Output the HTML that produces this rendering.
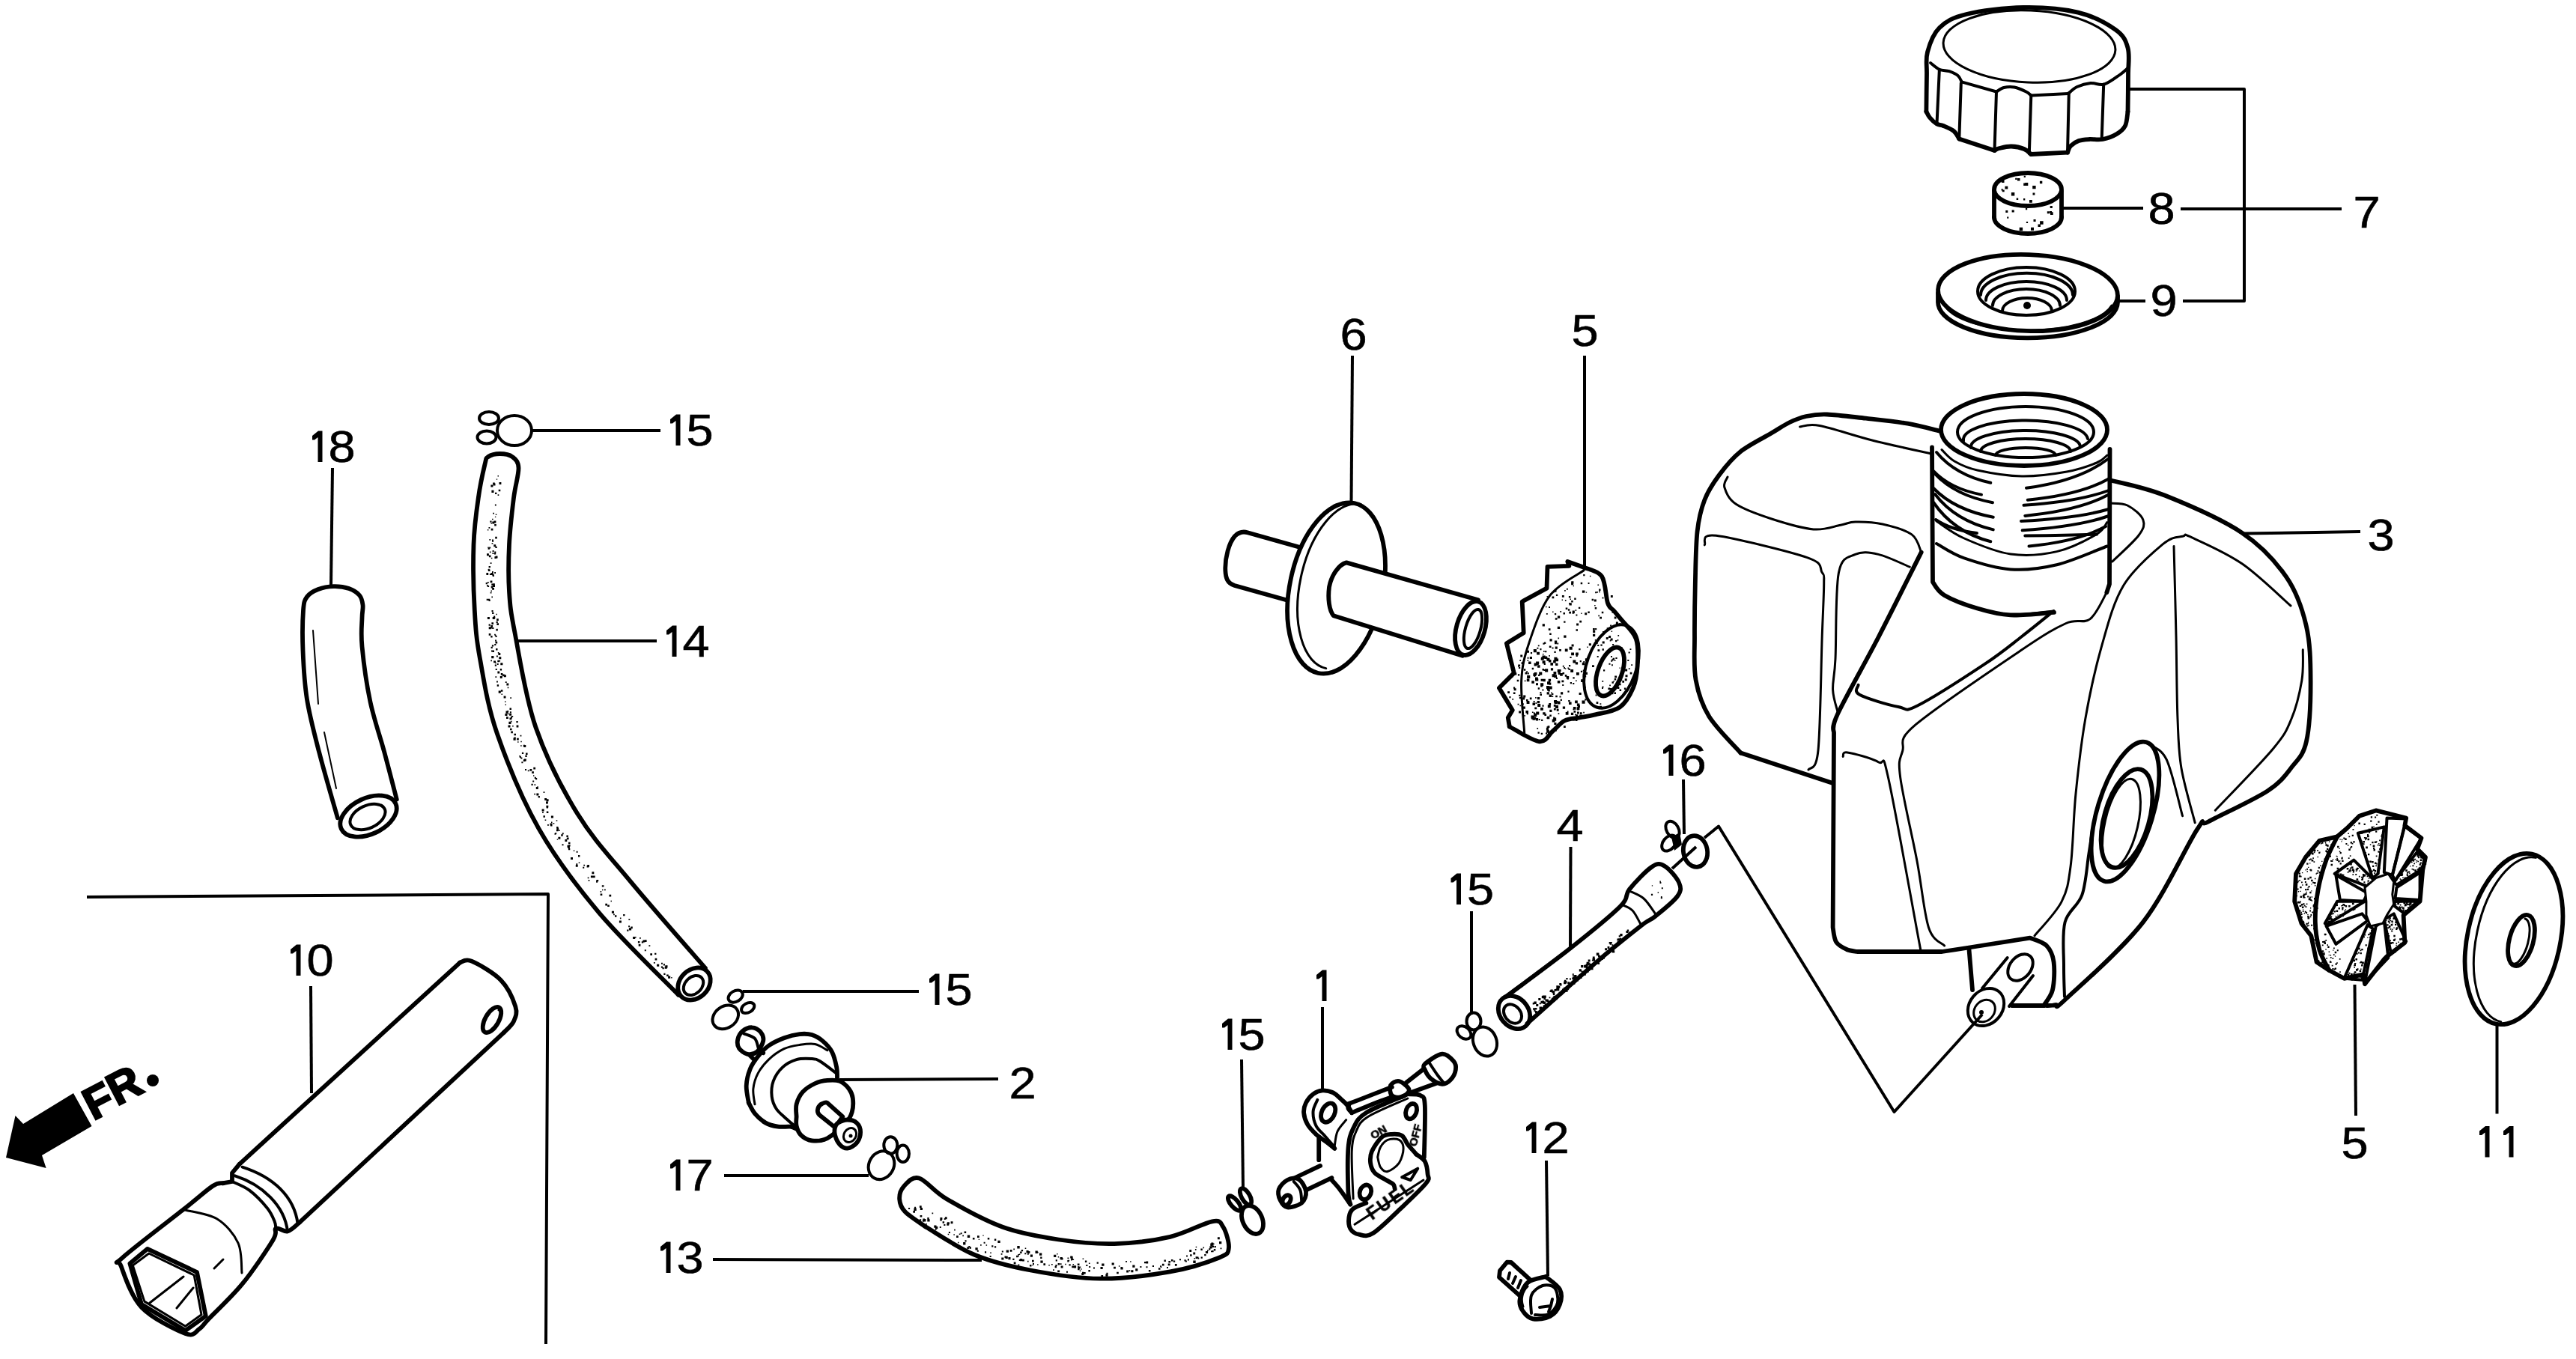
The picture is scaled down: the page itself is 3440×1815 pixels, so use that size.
<!DOCTYPE html>
<html><head><meta charset="utf-8"><style>
html,body{margin:0;padding:0;background:#fff;width:3440px;height:1815px;overflow:hidden}
svg{display:block}
text{font-family:"Liberation Sans",sans-serif;font-size:59px;fill:#000;stroke:#000;stroke-width:0.6px}
.l{fill:none;stroke:#000;stroke-width:4;stroke-linecap:butt;stroke-linejoin:round}
.t{fill:none;stroke:#000;stroke-width:5.8;stroke-linecap:round;stroke-linejoin:round}
.m{fill:none;stroke:#000;stroke-width:4;stroke-linecap:round;stroke-linejoin:round}
.n{fill:none;stroke:#000;stroke-width:3;stroke-linecap:round;stroke-linejoin:round}
.f{fill:#fff;stroke:#000;stroke-width:5.8;stroke-linecap:round;stroke-linejoin:round}
.d{fill:#000;stroke:none}
</style></head><body>
<svg width="3440" height="1815" viewBox="0 0 3440 1815">
<defs><filter id="g"><feOffset dx="0" dy="0"/></filter></defs>
<text transform="translate(3142.5 304) scale(1.1 1)" x="0" y="0">7</text>
<text transform="translate(2868.5 299) scale(1.1 1)" x="0" y="0">8</text>
<text transform="translate(2871.5 422) scale(1.1 1)" x="0" y="0">9</text>
<text transform="translate(1789.5 467) scale(1.1 1)" x="0" y="0">6</text>
<text transform="translate(2098.5 462) scale(1.1 1)" x="0" y="0">5</text>
<text transform="translate(3161.5 735) scale(1.1 1)" x="0" y="0">3</text>
<path class="d" d="M417.0 587.5 L417.0 582.0 L425.0 575.5 L430.5 575.5 L430.5 617.0 L424.5 617.0 L424.5 584.0 L420.0 587.5Z"/>
<text transform="translate(438.5 617) scale(1.1 1)" x="0" y="0">8</text>
<path class="d" d="M895.0 565.5 L895.0 560.0 L903.0 553.5 L908.5 553.5 L908.5 595.0 L902.5 595.0 L902.5 562.0 L898.0 565.5Z"/>
<text transform="translate(916.5 595) scale(1.1 1)" x="0" y="0">5</text>
<path class="d" d="M890.0 847.5 L890.0 842.0 L898.0 835.5 L903.5 835.5 L903.5 877.0 L897.5 877.0 L897.5 844.0 L893.0 847.5Z"/>
<text transform="translate(911.5 877) scale(1.1 1)" x="0" y="0">4</text>
<path class="d" d="M2221.0 1006.5 L2221.0 1001.0 L2229.0 994.5 L2234.5 994.5 L2234.5 1036.0 L2228.5 1036.0 L2228.5 1003.0 L2224.0 1006.5Z"/>
<text transform="translate(2242.5 1036) scale(1.1 1)" x="0" y="0">6</text>
<text transform="translate(2078.5 1123) scale(1.1 1)" x="0" y="0">4</text>
<path class="d" d="M1937.5 1178.5 L1937.5 1173.0 L1945.5 1166.5 L1951.0 1166.5 L1951.0 1208.0 L1945.0 1208.0 L1945.0 1175.0 L1940.5 1178.5Z"/>
<text transform="translate(1959.0 1208) scale(1.1 1)" x="0" y="0">5</text>
<path class="d" d="M388.0 1273.5 L388.0 1268.0 L396.0 1261.5 L401.5 1261.5 L401.5 1303.0 L395.5 1303.0 L395.5 1270.0 L391.0 1273.5Z"/>
<text transform="translate(409.5 1303) scale(1.1 1)" x="0" y="0">0</text>
<path class="d" d="M1241.0 1312.5 L1241.0 1307.0 L1249.0 1300.5 L1254.5 1300.5 L1254.5 1342.0 L1248.5 1342.0 L1248.5 1309.0 L1244.0 1312.5Z"/>
<text transform="translate(1262.5 1342) scale(1.1 1)" x="0" y="0">5</text>
<path class="d" d="M1758.0 1307.5 L1758.0 1302.0 L1766.0 1295.5 L1771.5 1295.5 L1771.5 1337.0 L1765.5 1337.0 L1765.5 1304.0 L1761.0 1307.5Z"/>
<path class="d" d="M1632.0 1372.5 L1632.0 1367.0 L1640.0 1360.5 L1645.5 1360.5 L1645.5 1402.0 L1639.5 1402.0 L1639.5 1369.0 L1635.0 1372.5Z"/>
<text transform="translate(1653.5 1402) scale(1.1 1)" x="0" y="0">5</text>
<text transform="translate(1347.5 1467) scale(1.1 1)" x="0" y="0">2</text>
<path class="d" d="M2038.0 1510.5 L2038.0 1505.0 L2046.0 1498.5 L2051.5 1498.5 L2051.5 1540.0 L2045.5 1540.0 L2045.5 1507.0 L2041.0 1510.5Z"/>
<text transform="translate(2059.5 1540) scale(1.1 1)" x="0" y="0">2</text>
<text transform="translate(3126.5 1547) scale(1.1 1)" x="0" y="0">5</text>
<path class="d" d="M3311.0 1516.1 L3311.0 1510.6 L3319.0 1504.1 L3324.5 1504.1 L3324.5 1545.6 L3318.5 1545.6 L3318.5 1512.6 L3314.0 1516.1Z"/>
<path class="d" d="M3343.0 1516.1 L3343.0 1510.6 L3351.0 1504.1 L3356.5 1504.1 L3356.5 1545.6 L3350.5 1545.6 L3350.5 1512.6 L3346.0 1516.1Z"/>
<path class="d" d="M895.0 1560.5 L895.0 1555.0 L903.0 1548.5 L908.5 1548.5 L908.5 1590.0 L902.5 1590.0 L902.5 1557.0 L898.0 1560.5Z"/>
<text transform="translate(916.5 1590) scale(1.1 1)" x="0" y="0">7</text>
<path class="d" d="M882.0 1670.5 L882.0 1665.0 L890.0 1658.5 L895.5 1658.5 L895.5 1700.0 L889.5 1700.0 L889.5 1667.0 L885.0 1670.5Z"/>
<text transform="translate(903.5 1700) scale(1.1 1)" x="0" y="0">3</text>
<path class="l" d="M2844 119H2997V402H2915" />
<path class="l" d="M2912 279H3127" />
<path class="l" d="M2755 278H2862" />
<path class="l" d="M2826 402H2865" />
<path class="l" d="M1806 475L1804.5 670" />
<path class="l" d="M2116 475V757" />
<path class="l" d="M2997 712.5L3152 710" />
<path class="l" d="M2248 1041L2249 1114" />
<path class="l" d="M2276 1119L2295 1103.5L2529.5 1485L2647 1355" />
<path class="l" d="M2265 1131L2233 1160" />
<path class="l" d="M3144.5 1315L3146 1490" />
<path class="l" d="M3334.5 1367.5V1487.5" />
<path class="l" d="M690 856H877" />
<path class="l" d="M710 575H882" />
<path class="l" d="M444 625L442 782" />
<path class="l" d="M415 1317L416 1460" />
<path class="l" d="M992 1324H1227" />
<path class="l" d="M1121 1442L1333 1441" />
<path class="l" d="M967 1570H1160" />
<path class="l" d="M952 1682L1311 1683" />
<path class="l" d="M1658 1415L1660 1587" />
<path class="l" d="M1766 1345V1457" />
<path class="l" d="M1965 1217V1355" />
<path class="l" d="M2065 1550L2067 1704" />
<path class="l" d="M2097.5 1131L2097 1266" />
<path class="l" d="M116 1198L732 1194L729 1795" />
<polygon points="98,1460 122.5,1504 56,1543 61.6,1560 8,1546 20.5,1490 31,1501" fill="#000"/>
<text x="124.5" y="1497" transform="rotate(-27.3 124.5 1497)" style="font-weight:bold;font-size:60px;stroke-width:2.5">F</text>
<text x="156" y="1477.5" transform="rotate(-27.3 156 1477.5)" style="font-weight:bold;font-size:60px;stroke-width:2.5">R</text>
<circle cx="204" cy="1443" r="8" fill="#000"/>
<path class="t" d="M2572.4 149.0 C2572.5 140.8 2572.7 113.2 2573.0 100.0 C2573.3 86.8 2571.2 80.0 2574.0 69.5 C2576.8 59.0 2581.3 45.4 2590.0 37.0 C2598.7 28.6 2607.3 23.5 2626.0 19.0 C2644.7 14.5 2677.2 10.4 2702.0 10.0 C2726.8 9.6 2754.5 11.7 2775.0 16.6 C2795.5 21.6 2813.9 31.8 2825.0 39.7 C2836.1 47.6 2838.7 54.0 2841.5 64.0 C2844.3 74.0 2842.0 85.8 2842.0 100.0 C2842.0 114.2 2841.6 140.8 2841.5 149.0" />
<path class="t" d="M2841.5 149.0 C2840.9 152.2 2840.5 163.0 2838.0 168.0 C2835.5 173.0 2831.6 176.0 2826.6 179.0 C2821.6 182.0 2814.1 184.8 2808.0 186.0 C2801.9 187.2 2795.3 185.7 2790.0 186.0 C2784.7 186.3 2780.2 186.5 2776.0 188.0 C2771.8 189.5 2767.5 192.4 2765.0 195.0 C2762.5 197.6 2761.7 202.2 2761.0 203.6" />
<path class="t" d="M2761 203.6L2712.3 206" />
<path class="t" d="M2712.3 206.0 C2710.8 204.8 2707.4 200.8 2703.0 199.0 C2698.6 197.2 2691.5 195.7 2686.0 195.5 C2680.5 195.3 2673.8 197.1 2670.0 198.0 C2666.2 198.9 2664.6 200.5 2663.5 201.0" />
<path class="t" d="M2663.5 201L2616.3 185.4" />
<path class="t" d="M2616.3 185.4 C2615.1 183.7 2612.6 177.9 2609.0 175.0 C2605.4 172.1 2598.8 169.6 2595.0 168.0 C2591.2 166.4 2589.5 167.4 2586.5 165.6 C2583.5 163.8 2579.3 159.8 2577.0 157.0 C2574.7 154.2 2573.2 150.3 2572.4 149.0" />
<path class="m" d="M2578.0 84.0 C2580.0 85.5 2585.6 90.8 2589.8 92.7 C2594.0 94.6 2598.9 93.8 2603.0 95.2 C2607.1 96.6 2611.8 98.7 2614.6 101.0 C2617.4 103.3 2618.8 107.9 2619.6 109.3" />
<path class="m" d="M2619.6 109.3L2666 122.5" />
<path class="m" d="M2666.0 122.5 C2667.7 121.6 2672.0 118.0 2676.0 117.0 C2680.0 116.0 2685.1 115.6 2690.0 116.5 C2694.9 117.4 2702.0 120.7 2705.7 122.5 C2709.4 124.3 2711.2 126.7 2712.3 127.5" />
<path class="m" d="M2712.3 127.5L2762 125" />
<path class="m" d="M2762.0 125.0 C2763.9 123.5 2768.6 118.3 2773.6 116.0 C2778.6 113.7 2785.7 111.6 2791.8 111.0 C2797.9 110.4 2803.4 114.5 2810.0 112.6 C2816.6 110.6 2826.2 102.9 2831.5 99.3 C2836.8 95.7 2839.8 92.4 2841.5 91.0" />
<path class="m" d="M2589.8 94.4L2586.5 165.6" />
<path class="m" d="M2618.8 111L2616.3 185.4" />
<path class="m" d="M2666 122.5L2663.5 201" />
<path class="m" d="M2712.3 127.5L2709.8 205.3" />
<path class="m" d="M2762.8 124.2L2761 203.6" />
<path class="m" d="M2809.2 112.6L2806.7 185.4" />
<ellipse class="n" cx="2710" cy="62" rx="115" ry="48" transform="rotate(2.5 2710 62)"/>
<ellipse class="t" cx="2708" cy="253" rx="45" ry="22"/>
<path class="t" d="M2663 255V290M2753 256V290" />
<path class="t" d="M2663 290A45 22 0 0 0 2753 290" />
<path class="d" d="M2693.9 238.0h3.6v3.6h-3.6zM2673.8 253.4h2.9v2.9h-2.9zM2672.6 252.3h2.1v2.1h-2.1zM2702.7 234.8h2.2v2.2h-2.2zM2702.0 265.1h2.3v2.3h-2.3zM2685.9 257.1h4.4v4.4h-4.4zM2714.2 247.9h4.4v4.4h-4.4zM2691.2 237.8h2.3v2.3h-2.3zM2692.7 264.6h2.5v2.5h-2.5zM2714.5 257.6h2.9v2.9h-2.9zM2672.8 240.2h3.7v3.7h-3.7zM2702.2 244.6h3.5v3.5h-3.5zM2704.3 244.0h4.0v4.0h-4.0zM2723.9 241.8h3.4v3.4h-3.4zM2710.0 267.0h3.8v3.8h-3.8zM2677.4 248.7h3.9v3.9h-3.9z"/>
<path class="d" d="M2680.2 289.6h2.1v2.1h-2.1zM2721.5 299.5h3.4v3.4h-3.4zM2738.0 283.3h3.7v3.7h-3.7zM2715.5 292.9h3.1v3.1h-3.1zM2705.9 295.9h2.2v2.2h-2.2zM2724.1 295.3h4.5v4.5h-4.5zM2733.8 282.2h3.0v3.0h-3.0zM2704.9 278.0h2.3v2.3h-2.3zM2678.3 280.9h3.0v3.0h-3.0zM2737.7 274.9h3.1v3.1h-3.1zM2712.0 303.8h4.0v4.0h-4.0zM2737.1 282.0h3.0v3.0h-3.0zM2696.7 303.8h4.4v4.4h-4.4zM2686.6 280.4h3.2v3.2h-3.2z"/>
<ellipse class="t" cx="2708" cy="391" rx="120" ry="51" transform="rotate(2 2708 391)"/>
<path class="t" d="M2588 391V403A118 47 0 0 0 2828 404V396" />
<path class="n" d="M2596 406A114 42 0 0 0 2820 408" />
<ellipse class="m" cx="2706" cy="389" rx="65" ry="32"/>
<path class="m" d="M2645 394A61 29 0 0 1 2768 394" />
<path class="m" d="M2652 401A54 25 0 0 1 2760 401" />
<path class="m" d="M2661 408A45 22 0 0 1 2751 408" />
<path class="m" d="M2674 415A33 17 0 0 1 2740 415" />
<circle cx="2707" cy="408" r="5" fill="#000"/>
<path class="t" d="M2589.5 575.5 C2582.5 573.9 2563.8 568.5 2547.5 565.7 C2531.2 562.9 2509.5 560.7 2491.6 558.7 C2473.7 556.7 2453.3 554.0 2440.0 553.5 C2426.7 553.0 2420.3 554.2 2412.0 556.0 C2403.7 557.8 2397.7 560.3 2390.0 564.0 C2382.3 567.7 2376.8 571.7 2365.8 578.3 C2354.8 584.9 2335.6 594.1 2323.9 603.4 C2312.2 612.7 2303.8 623.5 2295.9 634.2 C2288.0 644.9 2281.2 655.1 2276.3 667.7 C2271.4 680.3 2268.7 691.1 2266.6 709.7 C2264.5 728.4 2264.4 756.2 2263.8 779.6 C2263.2 803.0 2262.9 828.5 2263.0 850.0 C2263.1 871.5 2261.4 890.5 2264.6 908.3 C2267.8 926.1 2272.4 940.8 2282.4 957.0 C2292.4 973.2 2317.5 997.4 2324.5 1005.5" />
<path class="t" d="M2324.5 1005.5L2447.6 1046" />
<path class="n" d="M2403.5 570.0 C2407.9 569.8 2413.9 565.5 2430.0 568.5 C2446.1 571.5 2475.1 581.7 2500.0 588.0 C2524.9 594.3 2566.4 603.2 2579.7 606.2" />
<path class="n" d="M2307.0 637.0 C2306.3 639.3 2301.0 645.0 2302.9 651.0 C2304.8 657.0 2307.8 666.3 2318.3 673.3 C2328.8 680.3 2348.6 687.4 2365.8 693.0 C2383.0 698.6 2406.3 705.5 2421.7 706.9 C2437.1 708.3 2448.7 702.9 2458.0 701.3 C2467.3 699.6 2468.3 697.2 2477.6 697.0 C2486.9 696.8 2501.4 697.2 2514.0 700.0 C2526.6 702.8 2544.4 707.6 2553.0 713.9 C2561.6 720.2 2563.6 733.6 2565.7 737.6" />
<path class="t" d="M2565.7 737.6 C2556.2 756.3 2527.6 814.0 2509.0 850.0 C2490.4 886.0 2464.0 932.0 2454.0 953.6 C2444.0 975.2 2449.8 975.3 2449.0 979.6 L2447.6 1238.7 C2448.3 1241.9 2448.9 1253.1 2452.0 1258.0 C2455.1 1262.9 2461.3 1265.8 2466.0 1268.0 C2470.7 1270.2 2477.7 1270.5 2480.0 1271.0 L2593.3 1271 L2629.4 1265.5 L2710.9 1252.7 C2714.6 1254.4 2727.7 1257.6 2733.0 1263.0 C2738.3 1268.4 2741.3 1275.2 2742.6 1285.0 C2743.9 1294.8 2743.3 1312.3 2741.0 1322.0 C2738.7 1331.7 2731.0 1339.5 2729.0 1343.0 L2686.7 1343" />
<path class="t" d="M2629.4 1267L2634 1322" />
<path class="n" d="M2276.3 727.8 C2278.9 725.7 2268.9 712.5 2291.7 715.3 C2314.5 718.1 2389.8 736.5 2413.3 744.6 C2436.9 752.8 2429.3 758.4 2433.0 764.2 C2436.7 770.0 2435.7 765.3 2435.7 779.6 C2435.7 793.9 2434.5 812.9 2433.2 850.0 C2431.9 887.1 2431.0 972.3 2428.0 1002.0 C2425.0 1031.7 2417.2 1023.7 2415.0 1028.0" />
<path class="n" d="M2550.3 757.2 C2543.3 754.4 2520.5 743.2 2508.4 740.4 C2496.3 737.6 2486.4 736.2 2477.6 740.4 C2468.8 744.6 2459.7 742.3 2455.3 765.6 C2450.9 788.9 2452.3 854.0 2451.0 880.0 C2449.7 906.0 2447.1 909.6 2447.6 921.3 C2448.1 933.0 2452.9 945.5 2454.0 950.4" />
<path class="m" d="M2481.6 914.8 C2481.9 916.9 2474.3 922.8 2483.2 927.7 C2492.1 932.6 2522.0 941.6 2535.0 944.0 C2548.0 946.4 2541.8 951.8 2561.0 942.3 C2580.2 932.8 2626.8 902.6 2650.0 887.2 C2673.2 871.8 2684.6 861.9 2700.0 850.0 C2715.4 838.1 2735.4 821.7 2742.5 816.0" />
<path class="n" d="M2700 820.7L2742.5 816" />
<path class="n" d="M2813.3 791.3 C2809.6 797.2 2800.3 819.7 2791.2 826.6 C2782.1 833.5 2774.1 825.6 2758.9 832.5 C2743.7 839.4 2733.4 845.3 2700.0 867.8 C2666.6 890.3 2584.9 945.2 2558.3 967.7 C2531.8 990.2 2544.1 991.2 2540.7 1003.0 C2537.3 1014.8 2534.5 1013.9 2537.7 1038.4 C2540.9 1062.9 2553.7 1116.6 2560.0 1150.0 C2566.3 1183.4 2569.4 1219.9 2575.5 1238.7 C2581.6 1257.5 2593.1 1259.0 2596.6 1263.0" />
<path class="n" d="M2461.2 1010.4 C2462.2 1009.5 2459.2 1003.8 2467.0 1005.0 C2474.8 1006.2 2499.2 1012.2 2508.3 1017.8 C2517.4 1023.4 2512.7 999.7 2521.5 1038.4 C2530.3 1077.1 2554.4 1213.2 2561.3 1250.0 C2568.2 1286.8 2562.7 1257.5 2563.0 1259.0" />
<path class="n" d="M3059.0 809.0 C3048.2 799.7 3016.4 768.2 2994.3 753.0 C2972.2 737.8 2939.8 723.8 2926.6 717.7 C2913.4 711.6 2921.3 714.8 2914.9 716.3 C2908.5 717.8 2901.7 715.6 2888.4 726.6 C2875.2 737.6 2849.1 759.4 2835.4 782.5 C2821.7 805.6 2814.4 835.4 2806.0 865.0 C2797.6 894.6 2790.5 927.5 2784.8 960.0 C2779.1 992.5 2775.3 1027.3 2772.0 1060.0 C2768.7 1092.7 2768.4 1131.9 2765.2 1156.0 C2762.0 1180.1 2761.0 1188.8 2753.0 1204.4 C2745.0 1220.0 2723.0 1242.2 2717.0 1249.7" />
<path class="m" d="M2794.0 1110.0 C2793.2 1115.2 2791.6 1126.8 2789.3 1141.0 C2787.0 1155.2 2785.6 1180.3 2780.3 1195.4 C2775.0 1210.5 2761.7 1215.8 2757.6 1231.6 C2753.5 1247.4 2756.1 1273.4 2756.0 1290.0 C2755.9 1306.6 2756.8 1324.2 2757.0 1331.0" />
<path class="n" d="M2903.0 729.5 C2903.5 749.6 2905.2 811.6 2906.0 850.0 C2906.8 888.4 2906.8 930.7 2908.0 960.0 C2909.2 989.3 2909.1 1002.9 2913.0 1026.0 C2916.9 1049.1 2928.2 1086.7 2931.2 1098.8" />
<path class="n" d="M3075.3 867.8 C3075.1 874.7 3076.4 893.6 3073.8 909.0 C3071.2 924.4 3066.4 944.8 3060.0 960.0 C3053.6 975.2 3052.4 979.6 3035.5 1000.0 C3018.6 1020.4 2971.2 1068.5 2958.3 1082.2" />
<path class="t" d="M2817.7 641.2 C2830.0 644.6 2861.9 650.0 2891.3 661.8 C2920.7 673.6 2967.3 693.6 2994.3 711.8 C3021.3 729.9 3039.0 750.1 3053.2 770.7 C3067.4 791.3 3074.3 812.5 3079.7 835.5 C3085.1 858.5 3085.5 883.2 3085.6 909.0 C3085.7 934.8 3084.3 970.7 3080.0 990.0 C3075.7 1009.3 3068.7 1013.9 3060.0 1025.0 C3051.3 1036.1 3046.1 1044.5 3027.7 1056.6 C3009.2 1068.6 2964.9 1088.8 2949.3 1097.3 C2933.7 1105.8 2948.6 1085.5 2934.0 1107.9 C2919.4 1130.3 2891.0 1193.9 2861.8 1231.6 C2832.6 1269.3 2778.5 1315.6 2759.0 1334.0 C2739.5 1352.4 2749.8 1340.5 2745.0 1342.0 C2740.2 1343.5 2732.5 1342.8 2730.0 1343.0" />
<path class="n" d="M2817.7 672.0 C2821.6 672.5 2833.6 671.3 2841.0 675.0 C2848.4 678.7 2859.4 687.5 2861.9 694.2 C2864.4 700.9 2862.9 705.7 2856.0 715.0 C2849.1 724.3 2826.6 744.2 2820.7 750.0" />
<ellipse class="t" cx="2838" cy="1084" rx="37" ry="97" transform="rotate(17 2838 1084)"/>
<ellipse class="t" cx="2840" cy="1093" rx="30" ry="68" transform="rotate(16 2840 1093)"/>
<ellipse class="n" cx="2833" cy="1100" rx="22" ry="61" transform="rotate(13 2833 1100)"/>
<path class="n" d="M2867.8 993.2 C2872.0 996.7 2885.2 997.9 2893.0 1014.0 C2900.8 1030.1 2910.9 1077.1 2914.5 1089.7" />
<path class="m" d="M2680.7 1279L2647 1320M2715 1303L2683 1344" />
<ellipse class="m" cx="2698" cy="1292" rx="14" ry="20" transform="rotate(40 2698 1292)"/>
<ellipse class="m" cx="2652" cy="1345" rx="22" ry="27" transform="rotate(40 2652 1345)"/>
<ellipse class="n" cx="2650" cy="1350" rx="13" ry="16" transform="rotate(40 2650 1350)"/>
<circle cx="2646" cy="1352" r="3" fill="#000"/>
<path class="t" d="M2580 597.5L2581 777.2 C2583.2 780.2 2586.5 789.0 2596.5 794.9 C2606.5 800.8 2625.9 808.1 2640.6 812.5 C2655.3 816.9 2667.7 820.5 2684.8 821.4 C2701.9 822.3 2733.3 818.4 2743.0 817.8" />
<path class="t" d="M2817.5 600L2817 780L2813.3 791.3" />
<ellipse class="t" cx="2703" cy="574" rx="111" ry="48"/>
<ellipse class="m" cx="2705" cy="577" rx="91" ry="34"/>
<path class="m" d="M2622 589A83 26 0 0 1 2788 586" />
<path class="m" d="M2632 598A73 22 0 0 1 2778 596" />
<path class="m" d="M2645 603A60 17 0 0 1 2765 603" />
<path class="m" d="M2665 608A40 10 0 0 1 2745 608" />
<path class="m" d="M2586 604Q2611.3 634.6 2658.3 644.8" />
<path class="m" d="M2582 629Q2604.4 652.7 2646 660.6" />
<path class="m" d="M2584 633Q2610.9 661.7 2661 671.2" />
<path class="m" d="M2582 652Q2609.9 681.0 2661.8 690.7" />
<path class="m" d="M2584 660Q2611.2 695.5 2661.8 707.4" />
<path class="m" d="M2582 671Q2608.7 710.2 2658.3 723.3" />
<path class="m" d="M2585 694Q2604.2 707.5 2640 712" />
<path class="m" d="M2815 613Q2776.8 642.1 2706 651.8" />
<path class="m" d="M2816 639.5Q2778.1 660.7 2707.8 667.7" />
<path class="m" d="M2816 655Q2776.3 669.8 2702.5 674.8" />
<path class="m" d="M2816 660.6Q2776.9 681.8 2704.3 688.9" />
<path class="m" d="M2816 680Q2775.1 692.0 2699 696" />
<path class="m" d="M2816 689Q2775.6 703.5 2700.7 708.3" />
<path class="m" d="M2800 713.6Q2766.5 715.0 2704.3 715.4" />
<path class="m" d="M2812 703Q2776.1 722.9 2709.5 729.5" />
<path class="n" d="M2586.0 696.0 C2592.2 699.8 2606.5 711.7 2623.0 719.0 C2639.5 726.3 2664.4 737.1 2685.0 740.0 C2705.6 742.9 2727.5 741.0 2746.6 736.6 C2765.7 732.2 2788.4 720.1 2799.6 713.6 C2810.8 707.1 2811.3 700.4 2813.7 697.7" />
<path class="m" d="M2586.0 726.0 C2592.2 729.2 2606.5 739.7 2623.0 745.4 C2639.5 751.1 2664.4 758.9 2685.0 760.4 C2705.6 761.9 2725.2 759.4 2746.6 754.3 C2768.0 749.1 2802.5 733.6 2813.7 729.5" />
<path class="n" d="M2593.0 600.6 C2595.8 603.2 2602.1 611.4 2610.0 616.0 C2617.9 620.6 2625.6 624.7 2640.6 628.0 C2655.6 631.3 2680.1 635.7 2700.0 636.0 C2719.9 636.3 2743.3 633.0 2760.0 630.0 C2776.7 627.0 2791.0 621.7 2800.0 618.0 C2809.0 614.3 2811.7 609.7 2814.0 608.0" />
<path class="t" d="M1740.6 732.3L1665.9 711.2C1660 709.5 1654 711 1649 716C1641 725 1636 745 1636.3 760C1636.5 772 1639 779 1648.7 782L1717.6 801.2" />
<ellipse class="f" cx="1784.5" cy="785.5" rx="62" ry="116" transform="rotate(12 1784.5 785.5)"/>
<path class="n" d="M1817.3 673.4A58 112 12 0 0 1770.7 892.6" />
<path class="f" d="M1974 801.2L1798 751.4C1788 754 1778 768 1775 784C1773 800 1775 815 1780.7 822.2L1953 875.8"/>
<ellipse class="f" cx="1964" cy="839" rx="19" ry="37" transform="rotate(16 1964 839)"/>
<ellipse class="m" cx="1967" cy="840" rx="10" ry="27" transform="rotate(16 1967 840)"/>
<path class="t" d="M2115.2 757.8 L2093.3 749.9 L2095.3 755.8 L2066.5 756.8 L2065.5 785.6 L2032.7 803.5 L2034.7 845.3 L2011.9 859.2 L2021.8 898.9 L2001.9 918.8 L2019.8 948.6 L2013.8 958.5 L2015.8 970.5" />
<path class="t" d="M2015.8 970.5 C2022.4 973.8 2046.0 989.3 2055.6 990.3 C2065.2 991.3 2067.9 981.0 2073.5 976.4 C2079.1 971.8 2083.5 965.5 2089.4 962.5 C2095.3 959.5 2102.6 959.8 2109.2 958.5 C2115.8 957.2 2120.1 956.9 2129.1 954.6 C2138.1 952.3 2154.3 950.6 2162.9 944.6 C2171.5 938.6 2176.8 928.1 2180.8 918.8 C2184.8 909.5 2186.0 899.9 2186.7 889.0 C2187.4 878.1 2188.4 863.5 2184.8 853.2 C2181.2 842.9 2169.9 833.7 2164.9 827.4 C2159.9 821.1 2158.0 819.1 2155.0 815.5 C2152.0 811.9 2149.7 813.1 2147.0 805.5 C2144.3 797.9 2144.3 777.7 2139.0 769.7 C2133.7 761.8 2119.2 759.8 2115.2 757.8" />
<path class="n" d="M2115.0 761.8 C2107.4 767.4 2081.7 779.4 2069.5 795.6 C2057.3 811.8 2048.0 840.3 2041.7 859.2 C2035.4 878.1 2032.7 889.0 2031.7 908.9 C2030.7 928.8 2035.0 966.8 2035.7 978.4" />
<path class="d" d="M2117.7 790.4h1.4v1.4h-1.4zM2098.2 801.9h2.5v2.5h-2.5zM2109.3 828.7h2.8v2.8h-2.8zM2139.7 856.4h3.0v3.0h-3.0zM2095.1 805.1h1.6v1.6h-1.6zM2122.9 768.7h1.5v1.5h-1.5zM2120.6 778.0h1.9v1.9h-1.9zM2089.9 801.3h1.6v1.6h-1.6zM2103.6 814.3h1.6v1.6h-1.6zM2080.4 851.5h1.7v1.7h-1.7zM2110.7 777.8h2.5v2.5h-2.5zM2130.1 790.2h2.1v2.1h-2.1zM2069.2 845.4h2.5v2.5h-2.5zM2139.6 797.6h1.8v1.8h-1.8zM2148.1 849.1h3.0v3.0h-3.0zM2135.1 786.5h2.4v2.4h-2.4zM2079.8 836.8h3.3v3.3h-3.3zM2091.9 785.8h1.9v1.9h-1.9zM2121.8 859.2h3.1v3.1h-3.1zM2105.1 832.5h3.0v3.0h-3.0zM2059.7 833.3h3.2v3.2h-3.2zM2140.0 843.0h2.4v2.4h-2.4zM2088.2 848.5h3.3v3.3h-3.3zM2095.5 805.3h3.3v3.3h-3.3zM2133.4 780.4h1.7v1.7h-1.7zM2125.6 799.8h2.5v2.5h-2.5zM2161.7 832.2h2.5v2.5h-2.5zM2074.3 789.2h2.0v2.0h-2.0zM2077.7 825.3h1.9v1.9h-1.9zM2098.2 776.2h3.2v3.2h-3.2zM2090.7 811.5h2.6v2.6h-2.6zM2111.2 818.5h1.4v1.4h-1.4zM2100.6 781.8h1.4v1.4h-1.4zM2104.5 840.3h2.5v2.5h-2.5zM2087.5 818.0h2.5v2.5h-2.5zM2114.4 788.8h2.0v2.0h-2.0zM2138.8 816.8h2.5v2.5h-2.5zM2137.4 860.5h2.3v2.3h-2.3zM2120.4 816.6h2.4v2.4h-2.4zM2129.7 810.9h2.5v2.5h-2.5zM2130.4 856.7h3.3v3.3h-3.3zM2079.9 822.4h3.3v3.3h-3.3zM2064.0 809.7h1.5v1.5h-1.5zM2127.0 846.7h3.2v3.2h-3.2zM2067.8 839.3h2.7v2.7h-2.7zM2099.6 817.7h2.1v2.1h-2.1zM2072.5 796.4h2.8v2.8h-2.8zM2088.1 829.4h2.4v2.4h-2.4zM2098.6 860.4h3.0v3.0h-3.0zM2155.7 823.6h2.8v2.8h-2.8zM2129.1 807.9h1.5v1.5h-1.5zM2157.9 830.5h3.0v3.0h-3.0zM2102.2 798.6h2.5v2.5h-2.5zM2064.9 818.9h1.9v1.9h-1.9zM2085.9 794.9h2.9v2.9h-2.9zM2083.3 816.0h1.8v1.8h-1.8zM2134.3 821.5h1.8v1.8h-1.8zM2099.7 815.5h3.1v3.1h-3.1zM2095.2 816.7h2.8v2.8h-2.8zM2145.7 838.3h2.7v2.7h-2.7zM2096.5 799.5h1.5v1.5h-1.5zM2135.2 789.6h1.7v1.7h-1.7zM2150.1 834.4h2.0v2.0h-2.0zM2077.9 793.7h2.3v2.3h-2.3zM2068.1 810.1h1.9v1.9h-1.9zM2112.9 788.4h3.3v3.3h-3.3zM2085.6 800.5h1.4v1.4h-1.4zM2093.9 813.3h2.4v2.4h-2.4zM2073.1 816.5h1.4v1.4h-1.4zM2076.8 825.2h2.5v2.5h-2.5z"/>
<path class="d" d="M2166.3 909.0h2.7v2.7h-2.7zM2173.3 880.9h2.0v2.0h-2.0zM2164.8 907.5h1.5v1.5h-1.5zM2159.5 917.1h2.9v2.9h-2.9zM2132.7 895.0h2.3v2.3h-2.3zM2170.5 901.3h3.0v3.0h-3.0zM2162.6 912.8h1.8v1.8h-1.8zM2144.8 851.0h2.9v2.9h-2.9zM2155.7 905.9h2.5v2.5h-2.5zM2162.4 891.4h1.4v1.4h-1.4zM2168.9 918.6h2.3v2.3h-2.3zM2154.4 909.2h1.5v1.5h-1.5zM2165.5 866.5h1.5v1.5h-1.5zM2139.6 916.6h1.8v1.8h-1.8zM2152.2 880.2h2.3v2.3h-2.3zM2162.6 920.5h2.5v2.5h-2.5zM2160.4 848.1h1.7v1.7h-1.7zM2139.0 918.0h1.9v1.9h-1.9zM2162.0 912.7h2.6v2.6h-2.6zM2141.0 894.2h2.2v2.2h-2.2zM2150.6 852.4h3.0v3.0h-3.0zM2136.0 942.7h3.1v3.1h-3.1zM2126.0 888.2h2.9v2.9h-2.9zM2178.2 887.2h1.9v1.9h-1.9zM2136.5 939.3h1.8v1.8h-1.8zM2157.0 854.9h2.3v2.3h-2.3zM2170.1 893.4h3.0v3.0h-3.0zM2163.7 864.3h3.0v3.0h-3.0zM2151.7 842.6h1.4v1.4h-1.4zM2152.0 887.3h1.9v1.9h-1.9zM2132.7 876.1h2.0v2.0h-2.0zM2131.6 937.3h2.7v2.7h-2.7zM2174.6 870.4h2.1v2.1h-2.1zM2157.4 877.9h2.2v2.2h-2.2zM2130.6 927.6h1.9v1.9h-1.9zM2176.5 866.2h1.9v1.9h-1.9zM2153.1 859.9h2.1v2.1h-2.1zM2169.7 906.2h3.0v3.0h-3.0zM2176.7 897.7h2.7v2.7h-2.7zM2149.8 919.0h2.6v2.6h-2.6zM2151.0 876.1h1.9v1.9h-1.9zM2139.3 908.9h1.9v1.9h-1.9zM2155.7 881.4h1.7v1.7h-1.7zM2174.8 892.2h1.8v1.8h-1.8zM2149.7 854.7h1.7v1.7h-1.7z"/>
<ellipse class="m" cx="2152" cy="890" rx="33" ry="58" transform="rotate(20 2152 890)"/>
<ellipse class="t" cx="2150" cy="897" rx="16" ry="34" transform="rotate(20 2150 897)"/>
<path class="d" d="M2038.2 896.2h1.8v1.8h-1.8zM2051.5 884.9h3.1v3.1h-3.1zM2109.9 951.2h2.7v2.7h-2.7zM2067.2 920.8h2.6v2.6h-2.6zM2060.4 858.4h2.3v2.3h-2.3zM2075.3 935.0h3.8v3.8h-3.8zM2049.4 886.6h2.2v2.2h-2.2zM2066.0 910.2h4.1v4.1h-4.1zM2072.6 929.3h1.6v1.6h-1.6zM2065.2 975.1h3.7v3.7h-3.7zM2052.4 864.7h2.0v2.0h-2.0zM2077.0 942.1h4.0v4.0h-4.0zM2095.0 937.4h3.6v3.6h-3.6zM2071.2 924.5h1.7v1.7h-1.7zM2100.4 881.4h4.0v4.0h-4.0zM2088.1 891.0h1.9v1.9h-1.9zM2052.7 935.9h3.4v3.4h-3.4zM2077.2 928.7h2.6v2.6h-2.6zM2050.1 931.1h1.6v1.6h-1.6zM2057.1 912.2h4.1v4.1h-4.1zM2088.0 969.3h2.8v2.8h-2.8zM2051.1 883.4h4.1v4.1h-4.1zM2093.4 891.5h1.7v1.7h-1.7zM2074.8 941.1h2.7v2.7h-2.7zM2053.2 940.1h4.0v4.0h-4.0zM2060.4 906.8h3.4v3.4h-3.4zM2047.8 957.6h3.5v3.5h-3.5zM2075.4 877.7h4.1v4.1h-4.1zM2058.1 960.7h2.2v2.2h-2.2zM2049.9 952.7h2.4v2.4h-2.4zM2115.7 916.9h2.1v2.1h-2.1zM2050.1 906.3h3.3v3.3h-3.3zM2065.4 878.7h4.1v4.1h-4.1zM2113.8 894.4h2.1v2.1h-2.1zM2114.2 950.8h1.7v1.7h-1.7zM2089.8 901.1h2.6v2.6h-2.6zM2059.9 872.9h1.6v1.6h-1.6zM2055.2 897.4h4.1v4.1h-4.1zM2048.7 898.1h3.7v3.7h-3.7zM2104.0 908.4h1.7v1.7h-1.7zM2072.6 900.3h4.0v4.0h-4.0zM2047.4 899.2h3.9v3.9h-3.9zM2103.1 953.5h1.7v1.7h-1.7zM2112.8 884.7h3.5v3.5h-3.5zM2110.9 895.8h2.3v2.3h-2.3zM2116.2 933.3h2.3v2.3h-2.3zM2094.5 892.7h2.3v2.3h-2.3zM2112.5 935.6h4.1v4.1h-4.1zM2115.9 902.2h2.3v2.3h-2.3zM2068.7 916.6h4.0v4.0h-4.0zM2046.5 958.3h3.5v3.5h-3.5zM2104.0 954.3h3.2v3.2h-3.2zM2059.5 893.1h2.5v2.5h-2.5zM2047.8 951.6h2.2v2.2h-2.2zM2079.7 894.0h4.1v4.1h-4.1zM2053.8 861.4h1.9v1.9h-1.9zM2074.9 945.8h2.8v2.8h-2.8zM2051.1 906.3h3.2v3.2h-3.2zM2090.7 951.0h3.8v3.8h-3.8zM2089.8 866.4h3.8v3.8h-3.8zM2056.4 926.5h2.6v2.6h-2.6zM2096.4 876.9h2.2v2.2h-2.2zM2052.1 870.7h3.9v3.9h-3.9zM2082.0 894.1h2.6v2.6h-2.6zM2050.8 959.1h3.3v3.3h-3.3zM2072.7 960.6h3.8v3.8h-3.8zM2056.4 866.1h2.1v2.1h-2.1zM2113.7 900.3h3.9v3.9h-3.9zM2070.4 885.1h3.6v3.6h-3.6zM2083.7 933.7h2.2v2.2h-2.2zM2063.2 869.1h2.1v2.1h-2.1zM2052.9 930.9h3.3v3.3h-3.3zM2059.5 941.6h2.1v2.1h-2.1zM2058.1 877.5h3.7v3.7h-3.7zM2079.3 858.5h1.9v1.9h-1.9zM2065.6 924.3h3.3v3.3h-3.3zM2092.6 905.3h2.3v2.3h-2.3zM2057.7 978.7h2.4v2.4h-2.4zM2081.0 898.2h2.7v2.7h-2.7zM2062.7 876.6h3.5v3.5h-3.5zM2111.1 907.2h3.7v3.7h-3.7zM2066.6 969.2h2.8v2.8h-2.8zM2079.6 936.5h4.0v4.0h-4.0zM2038.0 934.0h2.6v2.6h-2.6zM2075.4 869.7h2.3v2.3h-2.3zM2076.9 974.9h1.9v1.9h-1.9zM2074.1 958.6h4.1v4.1h-4.1zM2047.8 867.1h4.1v4.1h-4.1zM2064.9 972.1h3.2v3.2h-3.2zM2104.2 871.6h3.6v3.6h-3.6zM2050.0 904.6h3.8v3.8h-3.8zM2104.6 874.7h2.2v2.2h-2.2zM2066.0 919.9h2.6v2.6h-2.6zM2041.1 883.4h3.5v3.5h-3.5zM2080.6 952.3h1.7v1.7h-1.7zM2084.0 924.3h3.2v3.2h-3.2zM2057.6 906.7h3.1v3.1h-3.1zM2068.3 938.9h2.8v2.8h-2.8zM2069.5 853.2h3.2v3.2h-3.2zM2074.1 881.8h3.6v3.6h-3.6zM2100.2 911.9h2.1v2.1h-2.1zM2072.6 864.5h1.9v1.9h-1.9zM2068.8 862.4h2.7v2.7h-2.7zM2075.9 855.5h3.3v3.3h-3.3zM2037.4 949.0h3.6v3.6h-3.6zM2076.0 857.3h2.9v2.9h-2.9zM2064.0 978.4h2.0v2.0h-2.0zM2095.9 960.0h2.1v2.1h-2.1zM2044.9 956.4h4.0v4.0h-4.0zM2098.1 871.4h3.9v3.9h-3.9zM2054.7 960.1h2.0v2.0h-2.0zM2075.2 974.2h2.1v2.1h-2.1zM2053.7 918.3h2.4v2.4h-2.4zM2045.2 956.0h1.9v1.9h-1.9zM2077.8 935.9h2.5v2.5h-2.5zM2108.6 924.9h3.1v3.1h-3.1zM2065.5 957.7h2.3v2.3h-2.3zM2062.4 953.2h2.7v2.7h-2.7zM2045.9 950.4h1.7v1.7h-1.7zM2103.8 884.2h3.3v3.3h-3.3zM2089.7 892.2h1.6v1.6h-1.6zM2085.4 908.4h2.9v2.9h-2.9zM2050.5 938.2h1.7v1.7h-1.7zM2039.6 898.2h2.2v2.2h-2.2zM2082.5 929.5h2.1v2.1h-2.1zM2086.2 914.1h2.0v2.0h-2.0zM2114.3 882.9h2.0v2.0h-2.0zM2038.6 936.2h3.9v3.9h-3.9zM2100.4 904.3h2.3v2.3h-2.3zM2080.6 897.3h3.3v3.3h-3.3zM2069.9 976.5h3.5v3.5h-3.5zM2052.4 972.0h1.7v1.7h-1.7zM2077.8 904.8h2.2v2.2h-2.2zM2035.3 955.1h1.6v1.6h-1.6zM2042.8 876.9h3.2v3.2h-3.2zM2075.6 936.6h3.7v3.7h-3.7zM2045.7 891.8h2.4v2.4h-2.4zM2100.5 946.6h1.6v1.6h-1.6zM2106.0 950.6h2.8v2.8h-2.8zM2096.8 911.1h2.2v2.2h-2.2zM2039.5 881.4h1.7v1.7h-1.7zM2060.2 951.2h3.4v3.4h-3.4zM2106.1 946.1h2.3v2.3h-2.3zM2079.8 908.9h3.6v3.6h-3.6zM2077.1 885.8h3.3v3.3h-3.3zM2116.9 879.3h3.9v3.9h-3.9zM2051.2 950.4h4.1v4.1h-4.1zM2097.2 894.1h3.9v3.9h-3.9zM2059.6 882.3h4.0v4.0h-4.0zM2086.8 943.5h3.3v3.3h-3.3zM2105.6 944.2h3.8v3.8h-3.8zM2069.3 947.8h3.1v3.1h-3.1zM2057.7 878.6h3.2v3.2h-3.2zM2061.0 869.1h1.7v1.7h-1.7zM2033.7 943.5h3.2v3.2h-3.2zM2092.7 949.5h1.8v1.8h-1.8zM2083.1 899.1h3.7v3.7h-3.7zM2039.6 877.8h1.9v1.9h-1.9zM2103.1 935.6h3.7v3.7h-3.7zM2086.8 888.8h1.9v1.9h-1.9zM2038.8 952.2h2.1v2.1h-2.1zM2058.7 907.2h1.7v1.7h-1.7zM2053.1 888.2h3.5v3.5h-3.5zM2063.1 893.3h4.1v4.1h-4.1zM2075.3 964.9h3.2v3.2h-3.2zM2069.3 954.4h2.5v2.5h-2.5zM2093.4 922.6h2.2v2.2h-2.2zM2103.8 873.0h1.6v1.6h-1.6zM2048.2 952.9h4.1v4.1h-4.1zM2074.2 957.6h2.1v2.1h-2.1zM2074.5 896.9h3.8v3.8h-3.8zM2053.5 977.4h2.3v2.3h-2.3zM2049.3 944.4h2.9v2.9h-2.9zM2039.9 935.9h1.8v1.8h-1.8zM2100.9 944.1h3.6v3.6h-3.6zM2086.5 898.0h2.6v2.6h-2.6zM2065.5 970.2h1.8v1.8h-1.8zM2048.6 885.5h3.9v3.9h-3.9zM2075.1 901.2h3.9v3.9h-3.9zM2051.0 912.2h3.0v3.0h-3.0zM2097.9 951.7h3.3v3.3h-3.3zM2061.4 894.1h2.0v2.0h-2.0zM2105.9 939.4h3.5v3.5h-3.5zM2045.3 909.2h3.6v3.6h-3.6zM2082.1 867.0h2.8v2.8h-2.8zM2109.7 882.1h2.1v2.1h-2.1zM2057.1 944.9h3.8v3.8h-3.8zM2043.9 871.1h2.2v2.2h-2.2zM2059.4 920.5h2.0v2.0h-2.0zM2059.5 875.6h4.1v4.1h-4.1zM2095.6 863.7h4.1v4.1h-4.1zM2039.1 901.9h4.2v4.2h-4.2zM2101.5 949.0h2.7v2.7h-2.7zM2047.7 936.1h1.9v1.9h-1.9zM2048.6 902.4h1.7v1.7h-1.7zM2065.9 956.8h3.4v3.4h-3.4zM2075.0 935.4h2.8v2.8h-2.8zM2042.8 931.5h2.7v2.7h-2.7zM2068.7 927.5h3.5v3.5h-3.5zM2067.9 880.9h3.5v3.5h-3.5zM2109.2 954.5h3.4v3.4h-3.4zM2106.7 941.7h3.3v3.3h-3.3zM2070.9 892.3h3.2v3.2h-3.2zM2038.8 906.6h3.6v3.6h-3.6zM2094.2 935.0h2.3v2.3h-2.3zM2068.1 911.5h3.2v3.2h-3.2zM2066.8 941.2h4.0v4.0h-4.0zM2046.5 938.4h3.6v3.6h-3.6zM2065.0 916.1h4.1v4.1h-4.1zM2044.5 955.5h4.0v4.0h-4.0zM2076.7 863.6h3.1v3.1h-3.1zM2078.7 946.8h2.9v2.9h-2.9zM2087.5 961.9h3.0v3.0h-3.0zM2066.9 978.0h2.1v2.1h-2.1zM2091.6 903.0h3.6v3.6h-3.6zM2062.0 857.6h2.3v2.3h-2.3zM2067.7 906.8h3.4v3.4h-3.4zM2061.7 885.8h2.2v2.2h-2.2zM2077.4 879.6h3.7v3.7h-3.7zM2065.3 878.6h1.9v1.9h-1.9zM2099.9 959.3h3.2v3.2h-3.2zM2072.2 925.9h2.2v2.2h-2.2zM2116.7 897.7h3.3v3.3h-3.3zM2103.7 960.2h2.8v2.8h-2.8zM2056.5 924.0h1.9v1.9h-1.9zM2105.0 897.9h3.8v3.8h-3.8zM2054.1 900.8h2.3v2.3h-2.3zM2068.3 875.1h1.6v1.6h-1.6zM2095.0 888.0h2.2v2.2h-2.2zM2057.2 914.7h2.7v2.7h-2.7z"/>
<path class="d" d="M2130.1 839.1h2.1v2.1h-2.1zM2159.6 854.1h1.7v1.7h-1.7zM2151.4 836.0h1.5v1.5h-1.5zM2132.2 790.0h1.7v1.7h-1.7zM2075.7 788.0h2.8v2.8h-2.8zM2098.1 778.3h3.0v3.0h-3.0zM2158.0 833.0h2.8v2.8h-2.8zM2133.5 867.3h2.8v2.8h-2.8zM2136.2 823.7h2.8v2.8h-2.8zM2108.2 865.9h2.4v2.4h-2.4zM2089.1 788.1h1.7v1.7h-1.7zM2114.2 767.0h2.3v2.3h-2.3zM2075.9 819.0h2.3v2.3h-2.3zM2119.3 863.5h1.5v1.5h-1.5zM2152.5 816.2h2.5v2.5h-2.5zM2133.2 860.9h2.1v2.1h-2.1zM2127.1 841.9h3.1v3.1h-3.1zM2116.2 818.2h3.0v3.0h-3.0zM2128.8 800.6h3.0v3.0h-3.0zM2100.3 816.9h2.4v2.4h-2.4zM2107.9 810.7h2.4v2.4h-2.4zM2150.9 795.1h2.9v2.9h-2.9zM2104.4 820.4h2.0v2.0h-2.0zM2132.0 855.0h2.1v2.1h-2.1zM2094.9 795.9h2.5v2.5h-2.5zM2129.8 854.1h1.6v1.6h-1.6zM2139.5 866.3h2.4v2.4h-2.4zM2065.5 796.0h1.5v1.5h-1.5zM2127.0 839.0h2.8v2.8h-2.8zM2160.1 833.4h2.5v2.5h-2.5z"/>
<path class="d" d="M2152.5 910.3h2.4v2.4h-2.4zM2153.6 878.8h2.5v2.5h-2.5zM2149.2 914.6h1.7v1.7h-1.7zM2155.5 924.4h2.5v2.5h-2.5zM2147.4 918.5h2.7v2.7h-2.7zM2151.2 881.8h2.0v2.0h-2.0zM2148.4 885.7h2.1v2.1h-2.1zM2152.8 925.7h1.6v1.6h-1.6zM2151.4 867.6h1.7v1.7h-1.7zM2156.2 902.4h2.9v2.9h-2.9z"/>
<path class="d" d="M2021.6 919.2h3.1v3.1h-3.1zM2029.3 881.2h1.8v1.8h-1.8zM2039.0 868.8h3.0v3.0h-3.0zM2031.6 884.2h2.7v2.7h-2.7zM2033.2 931.4h3.0v3.0h-3.0zM2028.9 930.9h2.3v2.3h-2.3zM2029.5 941.7h1.6v1.6h-1.6zM2019.3 932.9h1.8v1.8h-1.8zM2035.8 908.6h1.6v1.6h-1.6zM2021.0 917.5h2.2v2.2h-2.2zM2030.3 874.5h2.9v2.9h-2.9zM2020.9 924.5h2.6v2.6h-2.6zM2022.5 898.6h2.8v2.8h-2.8zM2027.0 889.2h1.6v1.6h-1.6zM2034.8 893.2h2.5v2.5h-2.5zM2028.0 890.9h2.2v2.2h-2.2zM2036.6 897.7h2.7v2.7h-2.7zM2028.1 949.6h2.9v2.9h-2.9zM2017.9 902.3h2.5v2.5h-2.5zM2027.2 887.4h2.9v2.9h-2.9zM2034.2 928.5h3.1v3.1h-3.1zM2026.6 939.7h1.8v1.8h-1.8zM2032.5 953.2h1.9v1.9h-1.9zM2028.2 927.8h2.3v2.3h-2.3zM2032.5 939.2h2.3v2.3h-2.3zM2033.2 883.3h2.5v2.5h-2.5zM2025.7 907.7h2.5v2.5h-2.5zM2015.4 930.1h2.1v2.1h-2.1zM2026.9 900.2h2.4v2.4h-2.4zM2013.2 923.3h2.8v2.8h-2.8z"/>
<path class="d" d="M3073.1 1223.9h1.8v1.8h-1.8zM3096.6 1164.0h2.4v2.4h-2.4zM3086.9 1138.7h2.7v2.7h-2.7zM3078.9 1218.1h2.2v2.2h-2.2zM3086.6 1197.3h1.5v1.5h-1.5zM3078.8 1180.1h2.6v2.6h-2.6zM3081.2 1222.9h2.4v2.4h-2.4zM3070.2 1175.1h1.6v1.6h-1.6zM3071.3 1203.2h1.5v1.5h-1.5zM3105.1 1152.1h1.3v1.3h-1.3zM3089.7 1134.6h2.7v2.7h-2.7zM3090.0 1178.0h2.5v2.5h-2.5zM3091.4 1229.4h1.4v1.4h-1.4zM3079.4 1190.8h1.4v1.4h-1.4zM3083.3 1147.3h2.0v2.0h-2.0zM3102.3 1155.0h2.0v2.0h-2.0zM3080.5 1163.3h1.5v1.5h-1.5zM3069.8 1169.0h2.6v2.6h-2.6zM3083.6 1142.3h1.2v1.2h-1.2zM3074.8 1195.0h2.7v2.7h-2.7zM3076.6 1219.3h1.4v1.4h-1.4zM3104.8 1152.4h1.3v1.3h-1.3zM3092.5 1166.2h1.5v1.5h-1.5zM3105.4 1127.2h2.5v2.5h-2.5zM3091.4 1272.9h1.6v1.6h-1.6zM3085.1 1146.5h1.8v1.8h-1.8zM3093.8 1196.9h2.0v2.0h-2.0zM3082.5 1244.2h1.8v1.8h-1.8zM3107.1 1128.2h2.6v2.6h-2.6zM3093.5 1212.0h2.1v2.1h-2.1zM3077.0 1149.9h1.4v1.4h-1.4zM3104.1 1152.1h1.2v1.2h-1.2zM3105.1 1125.4h1.4v1.4h-1.4zM3092.4 1206.7h1.6v1.6h-1.6zM3071.2 1189.7h1.4v1.4h-1.4zM3098.0 1271.0h1.4v1.4h-1.4zM3094.2 1187.9h2.7v2.7h-2.7zM3077.9 1177.1h1.9v1.9h-1.9zM3112.5 1126.9h2.0v2.0h-2.0zM3078.4 1192.7h2.2v2.2h-2.2zM3085.0 1212.1h1.3v1.3h-1.3zM3088.9 1207.4h1.2v1.2h-1.2zM3079.4 1238.4h1.6v1.6h-1.6zM3095.1 1282.3h2.2v2.2h-2.2zM3078.5 1210.2h1.9v1.9h-1.9zM3081.6 1232.9h1.4v1.4h-1.4zM3093.5 1165.2h1.9v1.9h-1.9zM3094.6 1143.8h1.4v1.4h-1.4zM3071.7 1169.7h1.9v1.9h-1.9zM3080.6 1160.8h1.3v1.3h-1.3zM3095.4 1267.2h2.2v2.2h-2.2zM3090.5 1215.1h2.2v2.2h-2.2zM3090.9 1172.7h1.6v1.6h-1.6zM3076.8 1208.8h1.8v1.8h-1.8zM3077.8 1216.7h2.0v2.0h-2.0zM3067.7 1186.5h1.9v1.9h-1.9zM3106.1 1136.8h1.6v1.6h-1.6zM3073.0 1177.5h1.8v1.8h-1.8zM3093.7 1249.2h2.4v2.4h-2.4zM3090.0 1199.0h2.4v2.4h-2.4zM3080.9 1187.0h2.1v2.1h-2.1zM3086.1 1174.8h2.5v2.5h-2.5zM3089.5 1150.2h1.7v1.7h-1.7zM3072.5 1220.0h2.1v2.1h-2.1zM3075.9 1193.4h2.7v2.7h-2.7zM3084.6 1223.5h1.8v1.8h-1.8zM3094.2 1135.0h1.8v1.8h-1.8zM3087.1 1217.5h2.1v2.1h-2.1zM3092.0 1195.9h2.2v2.2h-2.2zM3094.4 1262.9h1.5v1.5h-1.5zM3088.2 1145.2h1.7v1.7h-1.7zM3093.4 1207.4h1.5v1.5h-1.5zM3074.6 1229.8h2.2v2.2h-2.2zM3100.5 1124.9h1.9v1.9h-1.9zM3075.4 1206.2h2.1v2.1h-2.1zM3079.4 1232.8h2.1v2.1h-2.1zM3087.6 1139.0h1.5v1.5h-1.5zM3107.5 1136.4h1.4v1.4h-1.4zM3073.9 1210.6h2.5v2.5h-2.5zM3073.9 1164.9h1.4v1.4h-1.4zM3084.1 1197.6h1.8v1.8h-1.8zM3089.3 1228.0h1.6v1.6h-1.6zM3081.5 1224.9h2.7v2.7h-2.7zM3078.1 1186.9h2.3v2.3h-2.3zM3076.8 1172.5h2.6v2.6h-2.6zM3091.8 1258.8h1.6v1.6h-1.6zM3074.1 1181.3h1.5v1.5h-1.5zM3096.2 1137.8h2.1v2.1h-2.1zM3086.2 1189.3h1.3v1.3h-1.3zM3084.2 1161.0h1.5v1.5h-1.5zM3080.4 1159.6h1.3v1.3h-1.3zM3069.5 1165.4h2.5v2.5h-2.5zM3071.5 1196.4h2.5v2.5h-2.5zM3084.3 1246.3h1.8v1.8h-1.8zM3077.2 1198.1h1.4v1.4h-1.4zM3085.2 1161.3h2.2v2.2h-2.2zM3071.2 1208.9h2.1v2.1h-2.1zM3086.1 1234.7h2.1v2.1h-2.1zM3081.9 1186.9h1.3v1.3h-1.3zM3082.5 1235.6h1.4v1.4h-1.4zM3096.3 1181.8h2.0v2.0h-2.0zM3082.0 1157.7h1.4v1.4h-1.4zM3084.2 1191.0h2.3v2.3h-2.3zM3100.1 1149.7h1.4v1.4h-1.4zM3104.8 1124.5h1.3v1.3h-1.3zM3081.5 1185.3h1.3v1.3h-1.3zM3081.9 1231.2h1.5v1.5h-1.5zM3089.0 1239.5h1.8v1.8h-1.8zM3098.8 1125.8h1.6v1.6h-1.6zM3107.0 1132.7h2.3v2.3h-2.3zM3086.7 1250.7h2.5v2.5h-2.5zM3088.6 1208.7h2.7v2.7h-2.7zM3084.6 1190.8h1.5v1.5h-1.5zM3081.9 1141.7h2.3v2.3h-2.3zM3102.4 1159.8h1.6v1.6h-1.6zM3093.6 1196.7h2.7v2.7h-2.7zM3084.2 1170.7h2.6v2.6h-2.6zM3072.3 1217.8h1.7v1.7h-1.7zM3090.5 1254.1h2.5v2.5h-2.5zM3070.7 1169.0h1.8v1.8h-1.8zM3080.2 1152.5h2.3v2.3h-2.3zM3089.8 1137.5h1.7v1.7h-1.7zM3090.9 1182.1h1.5v1.5h-1.5zM3070.4 1204.6h1.9v1.9h-1.9zM3075.0 1214.2h1.2v1.2h-1.2zM3100.0 1284.2h2.2v2.2h-2.2zM3078.5 1161.2h1.4v1.4h-1.4zM3074.8 1231.2h2.6v2.6h-2.6zM3082.5 1183.1h2.1v2.1h-2.1zM3092.4 1206.5h1.5v1.5h-1.5zM3081.3 1221.0h1.3v1.3h-1.3zM3103.4 1146.5h1.9v1.9h-1.9zM3066.5 1195.8h1.5v1.5h-1.5zM3080.4 1235.4h2.0v2.0h-2.0zM3088.2 1177.8h1.9v1.9h-1.9zM3081.1 1196.4h2.1v2.1h-2.1zM3084.1 1152.2h1.3v1.3h-1.3zM3082.7 1199.5h2.8v2.8h-2.8zM3098.9 1170.3h2.1v2.1h-2.1zM3085.4 1221.0h1.9v1.9h-1.9zM3086.8 1137.7h1.5v1.5h-1.5zM3094.5 1162.2h2.0v2.0h-2.0zM3095.8 1157.8h2.1v2.1h-2.1zM3070.6 1208.9h2.1v2.1h-2.1zM3068.8 1190.1h1.3v1.3h-1.3zM3107.4 1137.8h2.8v2.8h-2.8zM3105.4 1135.5h2.5v2.5h-2.5zM3086.6 1147.9h2.7v2.7h-2.7zM3098.1 1155.4h1.7v1.7h-1.7zM3071.2 1183.9h2.4v2.4h-2.4zM3069.9 1215.3h2.5v2.5h-2.5zM3075.2 1197.1h2.5v2.5h-2.5zM3097.4 1137.6h1.2v1.2h-1.2zM3074.8 1216.2h1.7v1.7h-1.7zM3072.8 1206.9h2.6v2.6h-2.6zM3109.9 1123.6h1.5v1.5h-1.5zM3086.6 1202.2h1.5v1.5h-1.5zM3068.5 1176.1h1.5v1.5h-1.5zM3084.8 1200.8h2.1v2.1h-2.1zM3086.3 1180.4h1.2v1.2h-1.2zM3097.2 1176.9h1.2v1.2h-1.2zM3079.8 1206.6h1.6v1.6h-1.6zM3084.2 1215.6h1.8v1.8h-1.8zM3067.6 1177.5h1.7v1.7h-1.7zM3085.1 1160.8h1.6v1.6h-1.6zM3084.1 1141.5h1.2v1.2h-1.2zM3089.6 1218.8h1.7v1.7h-1.7zM3081.4 1172.4h2.4v2.4h-2.4zM3095.6 1284.6h1.7v1.7h-1.7zM3068.1 1203.8h2.6v2.6h-2.6z"/>
<path class="d" d="M3127.2 1144.6h1.5v1.5h-1.5zM3156.6 1099.7h2.2v2.2h-2.2zM3112.6 1153.8h2.4v2.4h-2.4zM3121.1 1129.8h2.4v2.4h-2.4zM3137.8 1142.3h1.7v1.7h-1.7zM3132.4 1126.0h2.0v2.0h-2.0zM3126.4 1123.3h1.2v1.2h-1.2zM3165.8 1090.3h2.3v2.3h-2.3zM3139.2 1129.9h2.0v2.0h-2.0zM3153.0 1111.6h2.2v2.2h-2.2zM3126.4 1145.2h2.3v2.3h-2.3zM3141.5 1106.9h1.9v1.9h-1.9zM3124.2 1149.2h1.3v1.3h-1.3zM3149.4 1098.4h2.5v2.5h-2.5zM3120.2 1147.5h2.5v2.5h-2.5zM3166.6 1103.8h2.6v2.6h-2.6zM3133.1 1153.1h1.8v1.8h-1.8zM3114.8 1147.1h1.3v1.3h-1.3zM3173.3 1087.7h2.0v2.0h-2.0zM3126.8 1120.7h1.5v1.5h-1.5zM3122.2 1149.4h2.1v2.1h-2.1zM3123.3 1132.7h1.4v1.4h-1.4zM3127.2 1148.7h2.4v2.4h-2.4zM3128.4 1111.6h1.9v1.9h-1.9zM3175.4 1096.6h2.2v2.2h-2.2zM3122.7 1160.4h1.7v1.7h-1.7zM3120.6 1158.7h2.6v2.6h-2.6zM3118.2 1147.4h1.3v1.3h-1.3zM3119.6 1142.7h1.3v1.3h-1.3zM3124.6 1152.3h2.2v2.2h-2.2zM3124.4 1120.4h1.3v1.3h-1.3zM3120.3 1142.9h1.4v1.4h-1.4zM3163.0 1106.5h1.4v1.4h-1.4zM3138.1 1131.5h1.7v1.7h-1.7zM3131.1 1119.4h2.6v2.6h-2.6zM3136.4 1116.4h1.8v1.8h-1.8zM3178.1 1104.9h2.1v2.1h-2.1zM3124.6 1138.0h2.2v2.2h-2.2zM3135.8 1145.3h1.8v1.8h-1.8zM3123.8 1136.5h1.6v1.6h-1.6zM3143.3 1101.9h1.4v1.4h-1.4zM3169.4 1103.4h1.4v1.4h-1.4zM3134.1 1153.3h1.9v1.9h-1.9zM3165.2 1095.6h2.2v2.2h-2.2zM3134.9 1128.3h1.5v1.5h-1.5zM3135.2 1112.4h1.7v1.7h-1.7zM3120.3 1145.8h1.6v1.6h-1.6zM3171.0 1090.4h2.1v2.1h-2.1zM3172.9 1100.2h1.8v1.8h-1.8zM3140.7 1114.8h2.2v2.2h-2.2zM3129.3 1118.4h2.1v2.1h-2.1zM3136.3 1133.5h2.5v2.5h-2.5zM3112.0 1149.1h1.7v1.7h-1.7zM3142.3 1123.2h2.4v2.4h-2.4zM3138.6 1124.2h2.4v2.4h-2.4zM3140.5 1125.7h1.9v1.9h-1.9zM3109.7 1142.4h2.0v2.0h-2.0zM3112.5 1154.6h1.3v1.3h-1.3zM3113.3 1148.9h2.0v2.0h-2.0zM3110.8 1142.5h2.2v2.2h-2.2z"/>
<path class="d" d="M3120.8 1268.3h2.0v2.0h-2.0zM3109.6 1274.9h1.2v1.2h-1.2zM3107.4 1261.3h1.6v1.6h-1.6zM3115.1 1268.4h1.3v1.3h-1.3zM3124.2 1297.3h1.6v1.6h-1.6zM3116.0 1265.4h1.8v1.8h-1.8zM3114.5 1279.3h1.7v1.7h-1.7zM3100.8 1261.4h1.9v1.9h-1.9zM3111.9 1278.0h1.7v1.7h-1.7zM3108.3 1287.7h2.3v2.3h-2.3zM3117.7 1270.7h2.5v2.5h-2.5zM3101.0 1269.3h2.1v2.1h-2.1zM3116.7 1293.6h1.9v1.9h-1.9zM3120.2 1285.3h1.6v1.6h-1.6zM3105.6 1247.3h1.3v1.3h-1.3zM3112.1 1284.2h1.6v1.6h-1.6zM3106.4 1279.1h1.6v1.6h-1.6zM3111.0 1283.0h1.5v1.5h-1.5zM3113.7 1288.8h1.8v1.8h-1.8zM3108.3 1263.6h2.3v2.3h-2.3zM3102.1 1272.7h2.4v2.4h-2.4zM3117.9 1276.4h1.3v1.3h-1.3zM3103.5 1258.6h2.5v2.5h-2.5zM3109.6 1270.4h1.5v1.5h-1.5zM3123.8 1280.0h1.8v1.8h-1.8zM3103.3 1278.9h1.7v1.7h-1.7zM3110.9 1284.5h1.4v1.4h-1.4zM3103.8 1246.8h2.4v2.4h-2.4zM3102.8 1273.5h2.0v2.0h-2.0zM3102.8 1271.6h1.4v1.4h-1.4zM3115.9 1274.2h1.7v1.7h-1.7zM3105.3 1267.3h1.5v1.5h-1.5zM3103.1 1256.5h2.4v2.4h-2.4zM3114.4 1293.0h2.0v2.0h-2.0zM3111.5 1274.9h1.6v1.6h-1.6zM3117.8 1292.5h2.2v2.2h-2.2zM3101.1 1256.9h2.0v2.0h-2.0zM3118.5 1286.4h2.3v2.3h-2.3zM3109.9 1294.3h1.8v1.8h-1.8zM3105.4 1255.1h1.7v1.7h-1.7z"/>
<path class="d" d="M3176.5 1137.1h2.0v2.0h-2.0zM3175.1 1147.8h1.5v1.5h-1.5zM3170.7 1162.0h2.5v2.5h-2.5zM3161.0 1115.5h2.7v2.7h-2.7zM3172.4 1155.2h1.4v1.4h-1.4zM3169.5 1134.1h2.5v2.5h-2.5zM3167.4 1168.8h1.4v1.4h-1.4zM3156.9 1117.9h1.9v1.9h-1.9zM3157.1 1138.0h2.7v2.7h-2.7zM3172.8 1152.8h1.8v1.8h-1.8zM3176.2 1158.5h2.3v2.3h-2.3zM3163.0 1110.4h2.2v2.2h-2.2zM3178.1 1127.6h2.2v2.2h-2.2zM3177.2 1132.9h2.2v2.2h-2.2zM3164.8 1127.3h1.5v1.5h-1.5zM3170.5 1124.3h1.3v1.3h-1.3zM3164.3 1149.4h2.5v2.5h-2.5zM3155.3 1122.9h2.7v2.7h-2.7zM3161.5 1119.7h2.6v2.6h-2.6zM3170.2 1165.3h1.8v1.8h-1.8zM3177.1 1121.5h1.8v1.8h-1.8zM3179.0 1139.4h1.8v1.8h-1.8zM3172.1 1109.6h2.2v2.2h-2.2zM3161.5 1149.4h2.2v2.2h-2.2zM3162.0 1140.0h2.3v2.3h-2.3zM3172.7 1142.4h1.9v1.9h-1.9zM3175.1 1165.1h2.4v2.4h-2.4zM3175.0 1106.8h1.7v1.7h-1.7zM3180.0 1114.3h2.1v2.1h-2.1zM3171.3 1123.6h2.4v2.4h-2.4zM3159.0 1141.5h1.9v1.9h-1.9zM3177.0 1150.5h1.8v1.8h-1.8zM3173.0 1123.3h1.5v1.5h-1.5zM3168.9 1160.7h2.5v2.5h-2.5zM3161.0 1114.0h2.0v2.0h-2.0zM3179.5 1115.5h2.4v2.4h-2.4zM3154.8 1125.7h1.3v1.3h-1.3zM3159.2 1130.5h2.7v2.7h-2.7zM3155.7 1126.3h1.9v1.9h-1.9zM3152.6 1122.2h1.8v1.8h-1.8zM3158.2 1118.3h2.7v2.7h-2.7zM3164.6 1161.4h2.2v2.2h-2.2zM3176.1 1125.9h1.4v1.4h-1.4zM3175.3 1136.5h2.1v2.1h-2.1zM3172.3 1155.7h1.6v1.6h-1.6zM3167.3 1124.1h2.2v2.2h-2.2zM3168.6 1128.5h2.7v2.7h-2.7zM3158.1 1121.0h1.3v1.3h-1.3zM3168.0 1155.8h2.3v2.3h-2.3zM3171.0 1151.5h2.4v2.4h-2.4zM3174.8 1127.7h1.8v1.8h-1.8zM3177.0 1128.2h1.5v1.5h-1.5zM3167.1 1150.0h2.6v2.6h-2.6zM3166.4 1162.4h2.3v2.3h-2.3zM3169.0 1131.9h2.1v2.1h-2.1z"/>
<path class="d" d="M3208.3 1174.9h2.5v2.5h-2.5zM3232.2 1144.2h2.3v2.3h-2.3zM3228.6 1159.7h2.6v2.6h-2.6zM3222.6 1149.7h1.3v1.3h-1.3zM3230.6 1153.4h2.3v2.3h-2.3zM3199.7 1174.6h1.7v1.7h-1.7zM3223.3 1152.6h1.7v1.7h-1.7zM3220.7 1147.2h2.5v2.5h-2.5zM3205.5 1174.6h2.5v2.5h-2.5zM3218.0 1156.3h1.3v1.3h-1.3zM3221.4 1155.2h2.0v2.0h-2.0zM3221.6 1147.5h2.6v2.6h-2.6zM3237.4 1152.1h2.8v2.8h-2.8zM3227.8 1160.4h1.9v1.9h-1.9zM3205.0 1168.6h1.5v1.5h-1.5zM3227.1 1140.3h1.5v1.5h-1.5zM3230.7 1157.7h1.4v1.4h-1.4zM3229.6 1158.4h2.8v2.8h-2.8zM3220.5 1160.0h1.5v1.5h-1.5zM3215.2 1169.9h1.8v1.8h-1.8zM3217.2 1165.8h1.5v1.5h-1.5zM3207.0 1177.6h1.8v1.8h-1.8zM3216.0 1163.4h2.2v2.2h-2.2zM3226.6 1157.0h1.3v1.3h-1.3zM3227.3 1139.9h2.0v2.0h-2.0zM3213.6 1167.3h2.3v2.3h-2.3zM3206.8 1166.2h2.3v2.3h-2.3zM3213.3 1172.4h2.5v2.5h-2.5zM3206.0 1167.2h2.7v2.7h-2.7zM3201.1 1180.5h2.3v2.3h-2.3zM3204.6 1173.2h1.5v1.5h-1.5zM3231.4 1159.7h2.2v2.2h-2.2zM3219.8 1150.4h1.8v1.8h-1.8zM3231.0 1157.8h1.4v1.4h-1.4zM3224.2 1146.7h1.9v1.9h-1.9zM3201.3 1180.7h2.1v2.1h-2.1zM3228.9 1144.1h2.2v2.2h-2.2zM3222.0 1160.5h1.9v1.9h-1.9zM3213.9 1164.5h2.2v2.2h-2.2zM3232.6 1156.6h2.6v2.6h-2.6zM3204.3 1179.2h1.9v1.9h-1.9zM3226.6 1148.7h1.7v1.7h-1.7zM3228.5 1149.7h1.6v1.6h-1.6zM3206.4 1176.7h2.7v2.7h-2.7zM3210.6 1171.6h2.4v2.4h-2.4zM3231.6 1151.4h2.2v2.2h-2.2zM3212.2 1161.3h2.7v2.7h-2.7zM3224.2 1161.3h2.7v2.7h-2.7zM3221.7 1166.5h2.2v2.2h-2.2zM3226.1 1151.0h1.3v1.3h-1.3zM3208.2 1171.5h1.5v1.5h-1.5zM3214.0 1168.0h1.9v1.9h-1.9zM3227.5 1141.7h2.7v2.7h-2.7zM3211.2 1174.3h1.2v1.2h-1.2zM3231.7 1147.5h2.6v2.6h-2.6z"/>
<path class="d" d="M3205.4 1204.0h1.5v1.5h-1.5zM3225.0 1206.4h2.3v2.3h-2.3zM3215.0 1214.7h1.5v1.5h-1.5zM3201.2 1205.4h2.8v2.8h-2.8zM3208.7 1214.6h2.1v2.1h-2.1zM3203.7 1204.9h1.2v1.2h-1.2zM3223.3 1205.9h2.7v2.7h-2.7zM3208.0 1215.8h1.4v1.4h-1.4zM3221.3 1208.0h1.8v1.8h-1.8zM3213.0 1205.6h1.6v1.6h-1.6zM3221.6 1208.5h1.8v1.8h-1.8zM3220.6 1207.5h1.5v1.5h-1.5zM3203.5 1210.2h1.8v1.8h-1.8zM3216.7 1211.6h2.6v2.6h-2.6zM3222.8 1207.7h1.2v1.2h-1.2zM3210.4 1205.7h1.9v1.9h-1.9zM3218.9 1205.3h1.4v1.4h-1.4zM3211.7 1206.7h1.6v1.6h-1.6zM3210.4 1205.8h1.3v1.3h-1.3zM3208.0 1211.6h2.7v2.7h-2.7zM3214.0 1205.0h1.6v1.6h-1.6zM3223.5 1205.6h2.7v2.7h-2.7zM3213.1 1207.8h1.5v1.5h-1.5zM3223.7 1207.3h1.3v1.3h-1.3zM3211.1 1215.9h1.3v1.3h-1.3zM3210.8 1209.1h1.5v1.5h-1.5zM3217.4 1209.8h1.4v1.4h-1.4zM3202.3 1204.0h2.2v2.2h-2.2zM3212.8 1204.2h2.0v2.0h-2.0zM3204.0 1212.1h2.2v2.2h-2.2zM3217.0 1206.2h2.5v2.5h-2.5zM3224.9 1206.8h1.6v1.6h-1.6zM3199.2 1207.4h1.3v1.3h-1.3zM3210.4 1206.1h1.5v1.5h-1.5zM3217.9 1204.0h2.7v2.7h-2.7zM3204.0 1211.7h2.0v2.0h-2.0zM3211.0 1207.5h2.7v2.7h-2.7zM3206.7 1210.5h1.7v1.7h-1.7zM3217.6 1204.2h1.8v1.8h-1.8zM3204.7 1211.3h2.1v2.1h-2.1zM3218.9 1206.1h1.6v1.6h-1.6zM3201.3 1206.1h2.0v2.0h-2.0zM3198.5 1207.7h1.5v1.5h-1.5zM3215.0 1211.3h1.9v1.9h-1.9zM3209.4 1204.6h2.7v2.7h-2.7zM3199.9 1204.1h1.7v1.7h-1.7zM3213.2 1217.9h2.5v2.5h-2.5zM3217.1 1212.3h1.4v1.4h-1.4zM3204.3 1214.7h2.1v2.1h-2.1zM3214.5 1206.8h2.3v2.3h-2.3zM3204.7 1207.7h1.8v1.8h-1.8zM3213.1 1215.0h1.3v1.3h-1.3zM3211.4 1214.9h2.5v2.5h-2.5zM3216.9 1206.8h2.7v2.7h-2.7zM3221.2 1207.7h1.9v1.9h-1.9z"/>
<path class="d" d="M3203.3 1261.3h1.4v1.4h-1.4zM3190.3 1231.8h1.6v1.6h-1.6zM3184.8 1227.6h1.8v1.8h-1.8zM3196.2 1224.5h2.1v2.1h-2.1zM3194.3 1257.9h1.9v1.9h-1.9zM3189.0 1246.1h1.2v1.2h-1.2zM3194.7 1271.7h2.4v2.4h-2.4zM3208.4 1254.6h2.2v2.2h-2.2zM3192.7 1234.0h2.5v2.5h-2.5zM3201.5 1265.7h2.6v2.6h-2.6zM3201.1 1230.9h1.2v1.2h-1.2zM3199.5 1259.1h1.6v1.6h-1.6zM3191.6 1258.3h2.8v2.8h-2.8zM3188.2 1238.2h2.0v2.0h-2.0zM3193.2 1242.6h2.0v2.0h-2.0zM3186.3 1229.0h1.3v1.3h-1.3zM3202.2 1257.5h1.6v1.6h-1.6zM3207.1 1259.2h1.7v1.7h-1.7zM3198.3 1230.4h2.7v2.7h-2.7zM3195.1 1258.6h1.6v1.6h-1.6zM3190.6 1225.3h2.3v2.3h-2.3zM3189.5 1251.4h1.4v1.4h-1.4zM3202.5 1233.2h1.6v1.6h-1.6zM3196.3 1248.8h2.4v2.4h-2.4zM3190.3 1235.9h2.2v2.2h-2.2zM3204.1 1253.2h2.6v2.6h-2.6zM3189.8 1237.0h2.3v2.3h-2.3zM3191.5 1228.7h1.6v1.6h-1.6zM3193.1 1258.8h1.3v1.3h-1.3zM3189.6 1226.7h2.0v2.0h-2.0zM3199.1 1239.7h2.3v2.3h-2.3zM3199.4 1261.7h1.4v1.4h-1.4zM3198.0 1233.8h2.3v2.3h-2.3zM3190.3 1237.3h2.0v2.0h-2.0zM3204.8 1261.5h1.8v1.8h-1.8zM3196.9 1269.8h2.7v2.7h-2.7zM3197.2 1254.3h1.6v1.6h-1.6zM3197.5 1253.4h1.7v1.7h-1.7zM3206.5 1243.7h1.3v1.3h-1.3zM3195.4 1225.4h2.7v2.7h-2.7zM3188.6 1248.7h2.5v2.5h-2.5zM3188.8 1229.6h2.4v2.4h-2.4zM3196.3 1238.4h1.4v1.4h-1.4zM3187.2 1234.2h2.4v2.4h-2.4zM3201.6 1235.8h1.9v1.9h-1.9zM3204.9 1259.5h1.4v1.4h-1.4zM3193.8 1233.6h1.6v1.6h-1.6zM3193.3 1229.6h2.4v2.4h-2.4zM3193.9 1230.4h1.9v1.9h-1.9zM3206.3 1252.7h2.6v2.6h-2.6zM3191.6 1239.9h1.8v1.8h-1.8zM3194.2 1240.5h1.4v1.4h-1.4zM3195.9 1254.3h2.6v2.6h-2.6zM3191.2 1255.4h1.8v1.8h-1.8zM3199.7 1238.3h2.5v2.5h-2.5z"/>
<path class="d" d="M3143.8 1297.2h2.6v2.6h-2.6zM3164.4 1245.3h2.7v2.7h-2.7zM3159.2 1284.9h2.2v2.2h-2.2zM3151.6 1268.6h1.7v1.7h-1.7zM3164.0 1250.8h1.7v1.7h-1.7zM3161.2 1251.8h1.3v1.3h-1.3zM3146.0 1294.1h2.7v2.7h-2.7zM3142.4 1281.6h2.6v2.6h-2.6zM3148.6 1301.3h2.4v2.4h-2.4zM3142.5 1299.4h2.1v2.1h-2.1zM3149.1 1265.7h2.6v2.6h-2.6zM3156.2 1250.4h1.8v1.8h-1.8zM3144.5 1305.6h2.3v2.3h-2.3zM3135.3 1302.4h1.3v1.3h-1.3zM3153.3 1266.9h2.3v2.3h-2.3zM3150.7 1295.5h2.5v2.5h-2.5zM3138.9 1300.1h2.8v2.8h-2.8zM3143.2 1289.0h1.5v1.5h-1.5zM3151.6 1271.9h2.3v2.3h-2.3zM3136.0 1305.5h2.8v2.8h-2.8zM3152.1 1293.6h1.5v1.5h-1.5zM3144.4 1303.1h1.5v1.5h-1.5zM3161.5 1266.3h2.2v2.2h-2.2zM3146.7 1272.8h1.9v1.9h-1.9zM3143.6 1287.8h2.4v2.4h-2.4zM3153.7 1301.6h1.5v1.5h-1.5zM3153.1 1288.1h2.4v2.4h-2.4zM3158.0 1287.4h1.6v1.6h-1.6zM3132.5 1304.6h1.9v1.9h-1.9zM3143.4 1291.5h1.6v1.6h-1.6zM3146.3 1280.6h1.7v1.7h-1.7zM3147.4 1306.7h2.0v2.0h-2.0zM3144.0 1285.9h1.8v1.8h-1.8zM3136.3 1298.7h2.1v2.1h-2.1zM3158.6 1261.2h2.2v2.2h-2.2zM3151.9 1283.8h2.4v2.4h-2.4zM3167.1 1245.8h1.8v1.8h-1.8zM3153.2 1284.9h1.7v1.7h-1.7zM3134.9 1301.1h2.5v2.5h-2.5zM3149.0 1271.6h1.8v1.8h-1.8zM3151.0 1303.5h2.2v2.2h-2.2zM3145.4 1279.9h2.5v2.5h-2.5zM3162.2 1246.9h2.3v2.3h-2.3zM3158.8 1288.1h2.7v2.7h-2.7zM3166.1 1241.7h2.7v2.7h-2.7zM3153.5 1307.0h1.3v1.3h-1.3zM3154.0 1284.6h2.8v2.8h-2.8zM3144.4 1307.1h1.9v1.9h-1.9zM3139.4 1306.8h2.8v2.8h-2.8zM3157.7 1248.0h1.5v1.5h-1.5zM3150.9 1285.2h1.3v1.3h-1.3zM3147.4 1293.3h2.1v2.1h-2.1zM3147.9 1299.9h2.2v2.2h-2.2zM3145.2 1285.9h1.2v1.2h-1.2zM3161.3 1265.6h2.3v2.3h-2.3z"/>
<path class="d" d="M3137.5 1213.7h1.8v1.8h-1.8zM3141.4 1213.8h2.4v2.4h-2.4zM3118.7 1222.9h1.5v1.5h-1.5zM3109.1 1232.9h2.4v2.4h-2.4zM3112.6 1227.6h2.1v2.1h-2.1zM3109.3 1228.1h1.4v1.4h-1.4zM3119.4 1207.4h2.6v2.6h-2.6zM3118.4 1226.6h2.2v2.2h-2.2zM3143.2 1210.5h2.2v2.2h-2.2zM3119.5 1215.4h2.7v2.7h-2.7zM3127.4 1221.7h2.5v2.5h-2.5zM3111.0 1227.2h1.4v1.4h-1.4zM3140.9 1205.5h2.8v2.8h-2.8zM3111.7 1223.7h1.8v1.8h-1.8zM3109.3 1230.4h2.6v2.6h-2.6zM3112.0 1229.3h1.4v1.4h-1.4zM3114.6 1219.4h1.7v1.7h-1.7zM3128.3 1206.9h2.7v2.7h-2.7zM3144.4 1211.1h1.9v1.9h-1.9zM3126.3 1209.0h1.4v1.4h-1.4zM3129.8 1219.2h1.6v1.6h-1.6zM3124.3 1221.1h2.4v2.4h-2.4zM3136.1 1208.9h2.6v2.6h-2.6zM3125.2 1220.9h1.7v1.7h-1.7zM3123.9 1222.7h1.7v1.7h-1.7zM3115.7 1219.7h1.4v1.4h-1.4zM3142.7 1203.9h1.3v1.3h-1.3zM3121.4 1221.6h1.2v1.2h-1.2zM3114.2 1229.8h1.4v1.4h-1.4zM3108.3 1229.8h2.8v2.8h-2.8zM3110.6 1227.1h1.6v1.6h-1.6zM3113.3 1226.5h2.1v2.1h-2.1zM3113.2 1219.5h2.1v2.1h-2.1zM3134.6 1216.7h2.1v2.1h-2.1zM3127.2 1211.2h2.4v2.4h-2.4zM3130.2 1215.9h1.7v1.7h-1.7zM3145.5 1210.7h2.3v2.3h-2.3zM3136.9 1209.5h1.3v1.3h-1.3zM3127.3 1213.4h2.0v2.0h-2.0zM3111.2 1230.3h2.2v2.2h-2.2zM3113.0 1223.3h1.3v1.3h-1.3zM3131.7 1214.3h1.4v1.4h-1.4zM3131.9 1209.1h2.3v2.3h-2.3zM3109.6 1232.0h1.2v1.2h-1.2zM3116.6 1216.3h1.5v1.5h-1.5zM3109.4 1225.3h2.8v2.8h-2.8zM3122.6 1212.1h2.3v2.3h-2.3zM3116.6 1216.3h2.3v2.3h-2.3zM3127.7 1208.7h1.3v1.3h-1.3zM3131.5 1219.1h1.5v1.5h-1.5zM3129.9 1208.2h2.0v2.0h-2.0zM3111.5 1225.2h2.3v2.3h-2.3zM3147.4 1207.3h1.7v1.7h-1.7zM3142.7 1212.5h2.8v2.8h-2.8zM3128.0 1203.9h1.3v1.3h-1.3z"/>
<path class="d" d="M3157.6 1180.4h2.2v2.2h-2.2zM3138.6 1173.3h1.2v1.2h-1.2zM3160.9 1180.4h2.1v2.1h-2.1zM3128.4 1167.7h2.0v2.0h-2.0zM3136.2 1162.3h2.0v2.0h-2.0zM3150.0 1156.8h1.6v1.6h-1.6zM3145.3 1167.1h1.9v1.9h-1.9zM3146.9 1158.7h2.4v2.4h-2.4zM3156.4 1177.3h2.0v2.0h-2.0zM3145.8 1162.4h1.7v1.7h-1.7zM3139.7 1174.7h2.5v2.5h-2.5zM3144.2 1175.5h1.5v1.5h-1.5zM3142.5 1161.8h1.7v1.7h-1.7zM3153.7 1173.5h2.2v2.2h-2.2zM3146.5 1173.3h2.7v2.7h-2.7zM3161.5 1175.7h2.0v2.0h-2.0zM3137.9 1158.5h2.0v2.0h-2.0zM3156.9 1181.5h2.6v2.6h-2.6zM3140.8 1160.2h2.8v2.8h-2.8zM3164.6 1181.4h1.9v1.9h-1.9zM3138.2 1153.0h2.6v2.6h-2.6zM3141.8 1163.2h2.2v2.2h-2.2zM3139.1 1162.6h1.2v1.2h-1.2zM3135.9 1173.6h2.2v2.2h-2.2zM3154.8 1171.1h1.7v1.7h-1.7zM3149.9 1169.7h1.7v1.7h-1.7zM3153.1 1170.7h2.0v2.0h-2.0zM3134.7 1163.9h1.8v1.8h-1.8zM3150.0 1162.5h1.3v1.3h-1.3zM3161.5 1178.4h1.6v1.6h-1.6zM3160.4 1166.2h2.8v2.8h-2.8zM3130.1 1171.6h2.4v2.4h-2.4zM3159.1 1164.8h2.8v2.8h-2.8zM3122.6 1165.6h1.5v1.5h-1.5zM3141.4 1167.3h1.7v1.7h-1.7zM3156.3 1167.6h2.8v2.8h-2.8zM3126.9 1167.4h2.0v2.0h-2.0zM3137.3 1160.9h2.2v2.2h-2.2zM3148.7 1159.0h1.3v1.3h-1.3zM3146.9 1160.7h1.7v1.7h-1.7zM3137.5 1163.4h1.5v1.5h-1.5zM3154.1 1173.1h1.9v1.9h-1.9zM3140.0 1157.2h2.5v2.5h-2.5zM3154.9 1166.9h2.0v2.0h-2.0zM3153.2 1174.1h1.6v1.6h-1.6zM3145.7 1160.2h2.1v2.1h-2.1zM3125.0 1166.4h2.2v2.2h-2.2zM3155.0 1168.7h2.2v2.2h-2.2zM3160.6 1169.6h1.6v1.6h-1.6zM3148.8 1176.3h1.8v1.8h-1.8zM3162.9 1172.6h1.4v1.4h-1.4zM3155.6 1168.2h2.6v2.6h-2.6zM3133.7 1158.9h2.7v2.7h-2.7zM3167.5 1180.6h2.8v2.8h-2.8zM3162.3 1175.5h1.6v1.6h-1.6z"/>
<path class="m" d="M3148.8 1112.7 L3183.8 1104.4 L3175.5 1167.0 L3168.2 1172.5Z" />
<path class="m" d="M3228.0 1137.6 L3239.0 1148.6 L3233.5 1161.5 L3200.4 1181.7 L3196.7 1178.0Z" />
<path class="m" d="M3198.5 1203.8 L3228.0 1203.8 L3211.4 1220.4 L3196.7 1209.3Z" />
<path class="m" d="M3187.5 1225.9 L3196.7 1220.4 L3213.2 1257.2 L3193.0 1273.7 L3183.8 1227.7Z" />
<path class="m" d="M3161.7 1235.1 L3169.1 1240.6 L3154.4 1308.7 L3130.4 1306.8Z" />
<path class="m" d="M3104.7 1233.2 L3121.2 1203.8 L3158.0 1203.8 L3106.5 1235.1Z" />
<path class="m" d="M3117.6 1167.0 L3143.3 1148.6 L3172.8 1178.0 L3165.4 1185.4Z" />
<path class="m" d="M3187.5 1092.5 L3213.2 1093.4 L3194.8 1168.8 L3183.8 1165.2Z" />
<path class="m" d="M3211.4 1102.6 L3233.5 1119.2 L3198.5 1176.2 L3194.8 1168.8Z" />
<path class="m" d="M3200.4 1185.4 L3231.6 1165.2 L3231.6 1202.0 L3198.5 1200.1Z" />
<path class="m" d="M3172.8 1236.9 L3183.8 1229.6 L3189.3 1279.2 L3158.0 1312.4Z" />
<path class="m" d="M3106.5 1236.9 L3154.4 1220.4 L3161.7 1229.6 L3119.4 1260.8Z" />
<path class="m" d="M3119.4 1168.8 L3161.7 1192.8 L3156.2 1203.8 L3124.9 1202.0Z" />
<path class="t" d="M3172.8 1082.4 L3213.2 1092.5 L3211.4 1102.6 L3233.5 1119.2 L3228.0 1133.9 L3239.0 1144.9 L3235.3 1161.5 L3231.6 1203.8 L3209.6 1222.2 L3211.4 1259.0 L3187.5 1277.4 L3183.8 1281.1 L3158.0 1314.2 L3156.2 1301.3 L3130.4 1306.8 L3110.2 1295.8 L3093.6 1284.8 L3086.3 1249.8 L3073.4 1233.2 L3064.2 1203.8 L3066.0 1167.0 L3078.9 1144.9 L3097.3 1122.8 L3121.2 1117.3 L3134.1 1106.3 L3150.7 1089.7Z" />
<path class="t" d="M3121.2 1117.3 C3118.8 1122.5 3110.8 1136.6 3106.5 1148.6 C3102.2 1160.6 3097.9 1175.3 3095.5 1189.1 C3093.0 1202.9 3091.5 1218.2 3091.8 1231.4 C3092.1 1244.6 3094.3 1257.5 3097.3 1268.2 C3100.4 1278.9 3108.1 1291.2 3110.2 1295.8" />
<path fill="#fff" stroke="#000" stroke-width="3" d="M3172.8 1172.5 L3189.3 1167.0 L3196.7 1178.0 L3194.8 1194.6 L3196.7 1207.5 L3187.5 1222.2 L3182.0 1233.2 L3165.4 1236.9 L3159.9 1222.2 L3159.9 1203.8 L3158.0 1185.4Z"/>
<ellipse class="t" cx="3357" cy="1254" rx="62" ry="116" transform="rotate(12 3357 1254)"/>
<path class="n" d="M3386.3 1145.4A56 112 12 0 0 3339.7 1364.6" />
<ellipse class="t" cx="3367" cy="1256" rx="16" ry="35" transform="rotate(15 3367 1256)"/>
<path class="n" d="M3372 1227A12 31 15 0 1 3356 1287" />
<ellipse class="m" cx="2233.5" cy="1108" rx="8" ry="12" transform="rotate(-30 2233.5 1108)"/>
<ellipse class="m" cx="2229" cy="1126" rx="8" ry="12" transform="rotate(40 2229 1126)"/>
<ellipse class="t" cx="2264" cy="1137" rx="16" ry="21" transform="rotate(-10 2264 1137)"/>
<path class="d" d="M2232 1118L2243 1112L2246 1128L2236 1136Z"/>
<path class="t" d="M2011.7 1330.6 C2025.9 1319.9 2071.8 1286.4 2097.0 1266.5 C2122.2 1246.6 2150.0 1224.2 2163.2 1211.0 C2176.4 1197.8 2168.9 1196.5 2176.0 1187.6 C2183.1 1178.7 2198.1 1162.8 2205.9 1157.7 C2213.7 1152.6 2216.9 1153.2 2223.0 1156.7 C2229.1 1160.2 2239.4 1172.3 2242.2 1179.0 C2245.0 1185.7 2245.3 1189.5 2240.0 1197.0 C2234.7 1204.5 2218.4 1217.3 2210.2 1223.9 C2202.0 1230.5 2203.8 1226.8 2191.0 1236.7 C2178.2 1246.7 2158.7 1261.9 2133.4 1283.6 C2108.2 1305.3 2055.2 1352.9 2039.5 1366.8" />
<path class="n" d="M2165.0 1208.0 C2167.5 1209.3 2175.7 1211.6 2180.0 1216.0 C2184.3 1220.4 2189.2 1231.4 2191.0 1234.5" />
<path class="n" d="M2176.0 1190.0 C2179.2 1191.7 2189.3 1195.1 2195.0 1200.0 C2200.7 1204.9 2207.5 1216.3 2210.0 1219.6" />
<ellipse class="t" cx="2022" cy="1352" rx="19" ry="24" transform="rotate(-40 2022 1352)"/>
<ellipse class="m" cx="2020" cy="1354" rx="10.5" ry="14" transform="rotate(-40 2020 1354)"/>
<path class="d" d="M2057.4 1346.4h2.8v2.8h-2.8zM2078.5 1319.9h2.5v2.5h-2.5zM2113.8 1297.6h1.7v1.7h-1.7zM2099.8 1300.3h1.9v1.9h-1.9zM2071.7 1323.1h2.4v2.4h-2.4zM2082.3 1313.1h2.7v2.7h-2.7zM2095.9 1306.5h2.1v2.1h-2.1zM2152.8 1269.2h3.4v3.4h-3.4zM2117.6 1290.6h2.7v2.7h-2.7zM2074.4 1329.8h2.3v2.3h-2.3zM2143.1 1266.3h2.9v2.9h-2.9zM2132.5 1282.7h2.7v2.7h-2.7zM2058.6 1336.5h3.5v3.5h-3.5zM2120.6 1293.1h2.9v2.9h-2.9zM2161.7 1249.2h2.4v2.4h-2.4zM2085.5 1322.0h3.2v3.2h-3.2zM2088.9 1308.7h2.3v2.3h-2.3zM2171.4 1242.9h3.2v3.2h-3.2zM2115.1 1288.9h3.7v3.7h-3.7zM2120.7 1287.9h1.7v1.7h-1.7zM2169.8 1252.6h2.3v2.3h-2.3zM2063.5 1334.4h2.5v2.5h-2.5zM2142.3 1271.9h2.7v2.7h-2.7zM2113.7 1297.9h3.2v3.2h-3.2zM2055.7 1339.3h2.0v2.0h-2.0zM2099.3 1305.5h2.7v2.7h-2.7zM2046.7 1339.1h2.4v2.4h-2.4zM2164.7 1254.3h3.5v3.5h-3.5zM2070.8 1321.5h2.9v2.9h-2.9zM2090.0 1321.2h3.6v3.6h-3.6zM2088.6 1309.8h3.8v3.8h-3.8zM2051.2 1341.0h3.1v3.1h-3.1zM2107.1 1303.5h3.2v3.2h-3.2zM2172.8 1241.6h2.3v2.3h-2.3zM2163.3 1246.9h3.3v3.3h-3.3zM2153.0 1267.4h2.4v2.4h-2.4zM2075.6 1321.0h2.8v2.8h-2.8zM2126.8 1277.4h2.9v2.9h-2.9zM2067.0 1336.7h2.5v2.5h-2.5zM2086.0 1320.6h2.9v2.9h-2.9zM2061.4 1332.2h2.7v2.7h-2.7zM2064.3 1334.4h3.4v3.4h-3.4zM2154.4 1266.3h1.6v1.6h-1.6zM2077.7 1320.2h3.1v3.1h-3.1zM2061.5 1329.5h3.3v3.3h-3.3zM2078.3 1316.3h3.5v3.5h-3.5zM2077.7 1330.7h3.2v3.2h-3.2zM2083.1 1325.0h2.1v2.1h-2.1zM2105.7 1305.2h3.5v3.5h-3.5zM2148.7 1258.0h2.6v2.6h-2.6zM2134.1 1275.4h2.7v2.7h-2.7zM2048.4 1337.5h3.4v3.4h-3.4zM2073.8 1326.5h2.6v2.6h-2.6zM2101.0 1306.3h3.6v3.6h-3.6zM2123.7 1291.4h3.8v3.8h-3.8zM2118.3 1289.0h2.2v2.2h-2.2zM2133.3 1285.2h2.8v2.8h-2.8zM2140.1 1274.3h3.2v3.2h-3.2zM2118.6 1284.7h3.3v3.3h-3.3zM2083.3 1326.2h3.1v3.1h-3.1zM2123.1 1291.3h2.3v2.3h-2.3zM2120.8 1294.7h2.3v2.3h-2.3zM2063.1 1341.8h2.9v2.9h-2.9zM2058.3 1346.4h3.6v3.6h-3.6zM2070.3 1321.8h1.7v1.7h-1.7zM2068.6 1331.4h1.8v1.8h-1.8zM2060.8 1337.6h3.3v3.3h-3.3zM2058.8 1330.1h3.2v3.2h-3.2zM2087.8 1318.7h2.5v2.5h-2.5zM2047.1 1346.2h2.6v2.6h-2.6zM2111.6 1296.5h1.9v1.9h-1.9zM2062.7 1340.8h2.5v2.5h-2.5zM2114.0 1299.0h3.8v3.8h-3.8zM2049.7 1345.9h2.7v2.7h-2.7zM2085.7 1323.8h2.1v2.1h-2.1zM2149.7 1259.3h2.4v2.4h-2.4zM2103.4 1304.5h2.4v2.4h-2.4zM2105.6 1308.1h2.4v2.4h-2.4zM2076.5 1331.8h3.5v3.5h-3.5zM2160.8 1253.2h2.9v2.9h-2.9zM2054.3 1333.0h3.1v3.1h-3.1zM2091.3 1305.9h2.3v2.3h-2.3zM2069.5 1322.8h2.3v2.3h-2.3zM2089.2 1309.7h1.8v1.8h-1.8zM2100.4 1311.7h3.0v3.0h-3.0zM2150.6 1257.9h2.2v2.2h-2.2zM2063.2 1341.8h2.4v2.4h-2.4zM2124.1 1289.4h2.1v2.1h-2.1zM2159.4 1253.5h3.0v3.0h-3.0zM2071.8 1332.7h3.8v3.8h-3.8zM2163.0 1252.7h2.0v2.0h-2.0zM2109.3 1303.7h3.2v3.2h-3.2zM2134.0 1276.7h1.9v1.9h-1.9zM2100.0 1301.9h1.8v1.8h-1.8zM2065.7 1335.7h2.6v2.6h-2.6zM2092.7 1319.7h2.5v2.5h-2.5zM2175.2 1244.5h3.4v3.4h-3.4zM2117.8 1287.2h2.8v2.8h-2.8zM2057.1 1345.8h1.8v1.8h-1.8zM2077.0 1329.6h1.9v1.9h-1.9zM2086.1 1324.2h2.7v2.7h-2.7zM2105.8 1304.7h3.4v3.4h-3.4zM2159.7 1257.1h2.3v2.3h-2.3zM2055.6 1344.5h3.4v3.4h-3.4zM2120.4 1291.1h2.3v2.3h-2.3zM2126.4 1279.9h3.7v3.7h-3.7zM2081.6 1324.8h3.8v3.8h-3.8zM2048.4 1348.8h2.2v2.2h-2.2zM2120.7 1281.5h2.9v2.9h-2.9zM2057.8 1345.8h1.8v1.8h-1.8zM2139.0 1280.1h1.9v1.9h-1.9zM2100.2 1304.3h3.5v3.5h-3.5zM2124.8 1289.3h1.6v1.6h-1.6zM2125.9 1281.9h1.6v1.6h-1.6zM2139.5 1277.3h3.4v3.4h-3.4zM2168.9 1252.1h3.2v3.2h-3.2zM2135.4 1282.6h1.9v1.9h-1.9zM2108.8 1294.3h3.1v3.1h-3.1zM2127.3 1288.7h2.0v2.0h-2.0zM2107.6 1303.2h3.6v3.6h-3.6zM2078.5 1319.4h3.8v3.8h-3.8zM2093.3 1311.3h2.8v2.8h-2.8zM2080.5 1329.7h1.6v1.6h-1.6zM2059.7 1329.6h2.5v2.5h-2.5zM2115.8 1288.4h2.6v2.6h-2.6zM2057.5 1336.9h3.4v3.4h-3.4zM2160.7 1253.8h2.3v2.3h-2.3zM2122.4 1286.9h2.8v2.8h-2.8zM2072.8 1323.0h3.4v3.4h-3.4zM2121.2 1285.4h2.2v2.2h-2.2zM2065.1 1339.5h3.0v3.0h-3.0zM2117.9 1295.4h3.6v3.6h-3.6zM2072.7 1334.3h3.6v3.6h-3.6zM2088.1 1311.1h3.1v3.1h-3.1zM2152.5 1261.2h1.9v1.9h-1.9zM2082.5 1313.6h3.0v3.0h-3.0zM2146.6 1264.1h2.8v2.8h-2.8zM2149.3 1267.6h2.9v2.9h-2.9zM2102.1 1302.1h3.4v3.4h-3.4zM2150.5 1265.4h3.2v3.2h-3.2zM2111.1 1289.1h3.2v3.2h-3.2zM2080.6 1317.0h2.7v2.7h-2.7zM2108.5 1301.2h2.3v2.3h-2.3zM2112.5 1301.0h2.5v2.5h-2.5zM2049.9 1350.1h2.8v2.8h-2.8zM2131.8 1272.6h3.6v3.6h-3.6zM2073.4 1331.5h1.8v1.8h-1.8zM2060.8 1342.3h2.4v2.4h-2.4zM2067.1 1340.6h2.9v2.9h-2.9zM2161.5 1257.3h2.7v2.7h-2.7z"/>
<path class="d" d="M2216.4 1176.6h1.5v1.5h-1.5zM2217.8 1198.2h2.1v2.1h-2.1zM2205.8 1182.3h1.3v1.3h-1.3zM2217.9 1197.1h1.7v1.7h-1.7zM2216.5 1178.1h1.9v1.9h-1.9zM2218.8 1185.3h2.0v2.0h-2.0zM2213.6 1191.3h1.5v1.5h-1.5zM2204.9 1193.8h2.2v2.2h-2.2z"/>
<ellipse class="m" cx="1983" cy="1391" rx="15.5" ry="20" transform="rotate(-20 1983 1391)"/>
<ellipse class="m" cx="1968" cy="1364" rx="9.5" ry="11.5"/>
<ellipse class="m" cx="1955" cy="1379" rx="10.5" ry="7.5" transform="rotate(40 1955 1379)"/>
<path class="t" d="M1763.1 1556.9 L1723.0 1576.0" />
<path class="t" d="M1778.4 1573.1 L1740.2 1591.3" />
<path class="f" d="M1707.7 1588.4 C1709.2 1584.0 1714.7 1578.2 1719.1 1576.0 C1723.6 1573.8 1730.3 1572.5 1734.4 1575.1 C1738.6 1577.6 1743.4 1586.1 1744.0 1591.3 C1744.6 1596.6 1742.4 1603.1 1738.3 1606.6 C1734.1 1610.1 1723.9 1613.0 1719.1 1612.4 C1714.3 1611.7 1711.5 1606.8 1709.6 1602.8 C1707.7 1598.8 1706.1 1592.9 1707.7 1588.4Z"/>
<path class="m" d="M1727.7 1577.9 C1729.2 1579.8 1734.6 1584.9 1736.3 1589.4 C1738.1 1593.9 1737.9 1602.2 1738.3 1604.7" />
<ellipse class="t" cx="1718.1748612971112" cy="1602.7931892098718" rx="5" ry="7" transform="rotate(30 1718.1748612971112 1602.7931892098718)"/>
<path class="t" d="M1877.9 1445.9 L1904.7 1424.9" />
<path class="t" d="M1883.7 1459.3 L1925.8 1444.0" />
<path class="f" d="M1902.8 1421.0 C1906.6 1417.5 1919.4 1408.3 1925.8 1407.7 C1932.1 1407.0 1938.0 1413.7 1941.1 1417.2 C1944.1 1420.7 1944.6 1424.6 1943.9 1428.7 C1943.3 1432.8 1940.3 1438.9 1937.2 1442.1 C1934.2 1445.3 1930.2 1448.1 1925.8 1447.8 C1921.3 1447.5 1914.3 1443.4 1910.4 1440.2 C1906.6 1437.0 1904.1 1431.9 1902.8 1428.7 C1901.5 1425.5 1899.0 1424.6 1902.8 1421.0Z"/>
<path class="m" d="M1908.5 1419.1 C1910.4 1422.0 1916.8 1431.9 1920.0 1436.3 C1923.2 1440.8 1926.4 1444.3 1927.7 1445.9" />
<path class="f" d="M1856.9 1449.7 C1858.5 1446.6 1864.2 1443.0 1868.4 1444.0 C1872.5 1445.0 1881.1 1452.0 1881.7 1455.5 C1882.4 1459.0 1876.0 1463.8 1872.2 1465.0 C1868.4 1466.3 1861.3 1465.7 1858.8 1463.1 C1856.2 1460.6 1855.3 1452.9 1856.9 1449.7Z"/>
<path class="t" d="M1805.2 1486.1 C1804.3 1484.5 1801.7 1479.4 1799.5 1476.5 C1797.3 1473.7 1795.0 1471.7 1791.8 1468.9 C1788.6 1466.0 1784.7 1461.4 1780.4 1459.3 C1776.0 1457.2 1770.5 1456.1 1766.0 1456.4 C1761.5 1456.8 1757.2 1458.5 1753.6 1461.2 C1749.9 1463.9 1746.1 1468.6 1744.0 1472.7 C1741.9 1476.8 1740.8 1481.3 1741.1 1486.1 C1741.5 1490.9 1743.2 1496.6 1745.9 1501.4 C1748.6 1506.2 1752.9 1510.6 1757.4 1514.8 C1761.9 1518.9 1768.6 1523.1 1772.7 1526.3 C1776.8 1529.5 1780.7 1532.6 1782.3 1533.9" />
<path class="m" d="M1759.3 1468.9 C1758.4 1471.4 1753.9 1478.4 1753.6 1484.2 C1753.2 1489.9 1754.8 1497.9 1757.4 1503.3 C1759.9 1508.7 1764.7 1511.9 1768.9 1516.7 C1773.0 1521.5 1780.0 1529.5 1782.3 1532.0" />
<ellipse class="t" cx="1773.656016835661" cy="1486.0914482494738" rx="8.6" ry="13.4" transform="rotate(25 1773.656016835661 1486.0914482494738)"/>
<path class="n" d="M1797.6 1495.7 C1795.7 1498.2 1788.6 1505.2 1786.1 1511.0 C1783.5 1516.7 1782.9 1526.9 1782.3 1530.1" />
<path class="t" d="M1799.5 1474.6 C1802.0 1473.7 1804.9 1472.7 1814.8 1468.9 C1824.7 1465.0 1851.5 1454.5 1858.8 1451.7" />
<path class="t" d="M1805.2 1486.1 C1810.6 1483.9 1828.8 1476.2 1837.7 1472.7 C1846.7 1469.2 1855.3 1466.3 1858.8 1465.0" />
<path class="t" d="M1801.4 1475.6 C1801.2 1476.4 1799.8 1478.6 1800.4 1480.4 C1801.1 1482.1 1804.4 1485.1 1805.2 1486.1" />
<path class="t" d="M1761.2 1520.5 C1761.2 1525.3 1761.2 1544.4 1761.2 1549.2" />
<path class="t" d="M1778.4 1576.0 C1780.4 1578.2 1785.8 1584.0 1789.9 1589.4 C1794.1 1594.8 1801.1 1605.3 1803.3 1608.5" />
<path class="t" d="M1879.8 1461.2 C1882.7 1461.5 1893.2 1460.6 1897.1 1463.1 C1900.9 1465.7 1902.0 1462.8 1902.8 1476.5 C1903.6 1490.2 1902.0 1533.9 1901.8 1545.4" />
<path class="t" d="M1879.8 1461.2 C1870.6 1465.4 1836.5 1478.4 1824.4 1486.1 C1812.2 1493.7 1811.1 1499.2 1807.1 1507.1 C1803.2 1515.1 1801.6 1519.9 1800.4 1533.9 C1799.3 1547.9 1800.0 1578.9 1800.4 1591.3 C1800.9 1603.7 1802.8 1605.7 1803.3 1608.5" />
<path class="n" d="M1879.8 1467.0 C1870.9 1471.1 1837.7 1484.5 1826.3 1491.8 C1814.8 1499.2 1814.5 1503.3 1811.0 1511.0 C1807.5 1518.6 1805.9 1522.8 1805.2 1537.7 C1804.6 1552.7 1806.8 1590.4 1807.1 1600.9" />
<ellipse class="t" cx="1884.6183279127606" cy="1484.178304955041" rx="7" ry="10.5" transform="rotate(20 1884.6183279127606 1484.178304955041)"/>
<ellipse class="t" cx="1823.3977424909126" cy="1592.2709010904916" rx="7.5" ry="10" transform="rotate(20 1823.3977424909126 1592.2709010904916)"/>
<path class="t" d="M1862.6 1587.5 C1862.3 1586.5 1862.6 1583.7 1860.7 1581.7 C1858.8 1579.8 1855.3 1578.6 1851.1 1576.0 C1847.0 1573.5 1839.3 1570.3 1835.8 1566.4 C1832.3 1562.6 1830.7 1557.8 1830.1 1553.1 C1829.5 1548.3 1829.5 1543.5 1832.0 1537.7 C1834.6 1532.0 1840.9 1522.4 1845.4 1518.6 C1849.9 1514.8 1854.3 1515.1 1858.8 1514.8 C1863.3 1514.5 1868.7 1514.5 1872.2 1516.7 C1875.7 1518.9 1876.6 1524.0 1879.8 1528.2 C1883.0 1532.3 1889.4 1539.3 1891.3 1541.6" />
<path class="n" d="M1839.7 1545.4 C1840.3 1543.2 1841.3 1535.8 1843.5 1532.0 C1845.7 1528.2 1848.9 1524.0 1853.1 1522.4 C1857.2 1520.8 1864.8 1520.5 1868.4 1522.4 C1871.9 1524.4 1874.1 1528.8 1874.1 1533.9 C1874.1 1539.0 1871.9 1547.9 1868.4 1553.1 C1864.8 1558.2 1857.2 1563.6 1853.1 1564.5 C1848.9 1565.5 1845.7 1562.0 1843.5 1558.8 C1841.3 1555.6 1840.3 1547.6 1839.7 1545.4" />
<path class="t" d="M1891.3 1541.6 C1893.2 1543.2 1900.2 1546.7 1902.8 1551.1 C1905.3 1555.6 1906.3 1563.6 1906.6 1568.4 C1906.9 1573.1 1910.4 1572.5 1904.7 1579.8 C1899.0 1587.2 1884.0 1601.2 1872.2 1612.4 C1860.4 1623.5 1843.5 1640.7 1833.9 1646.8 C1824.4 1652.9 1819.9 1649.7 1814.8 1648.7 C1809.7 1647.8 1805.5 1644.9 1803.3 1641.1 C1801.1 1637.2 1800.8 1630.2 1801.4 1625.8 C1802.0 1621.3 1803.3 1617.5 1807.1 1614.3 C1811.0 1611.1 1821.5 1607.9 1824.4 1606.6" />
<path class="n" d="M1809.0 1635.3 L1900.9 1576.0" />
<path class="m" d="M1872.2 1572.2 L1893.2 1560.7 L1883.7 1576.0 L1872.2 1572.2" />
<text x="1832.0" y="1629.6" transform="rotate(-35 1832.0 1629.6)" letter-spacing="3" filter="url(#g)" style="font-size:23px;font-weight:bold;stroke-width:0.6">FUEL</text>
<text x="1833.9" y="1522.4" transform="rotate(-30 1833.9 1522.4)" filter="url(#g)" style="font-size:15px;font-weight:bold;stroke-width:0.6">ON</text>
<text x="1891.3" y="1532.0" transform="rotate(-75 1891.3 1532.0)" filter="url(#g)" style="font-size:15px;font-weight:bold;stroke-width:0.6">OFF</text>
<path class="t" d="M2012.5 1685.7 L2018.0 1686.0 L2045.0 1710.6 L2029.7 1730.7 L2002.0 1705.8 L2003.0 1697.0Z" />
<path class="m" d="M2016 1700L2014 1708" />
<path class="m" d="M2024 1705L2020 1714" />
<path class="m" d="M2031 1710L2027 1720" />
<path class="m" d="M2038 1715L2032 1724" />
<path class="f" d="M2064.0 1705.0 C2067.2 1707.8 2079.8 1715.8 2083.0 1722.0 C2086.2 1728.2 2085.2 1736.0 2083.0 1742.0 C2080.8 1748.0 2076.0 1754.8 2070.0 1758.0 C2064.0 1761.2 2053.2 1762.6 2047.0 1761.3 C2040.8 1760.0 2035.9 1754.4 2033.0 1750.0 C2030.1 1745.6 2028.5 1741.2 2029.7 1735.0 C2030.9 1728.8 2034.3 1718.0 2040.0 1713.0 C2045.7 1708.0 2060.0 1706.3 2064.0 1705.0"/>
<path class="m" d="M2045.0 1754.0 C2045.0 1750.0 2042.5 1736.2 2045.0 1730.0 C2047.5 1723.8 2054.8 1718.7 2060.0 1717.0 C2065.2 1715.3 2072.7 1716.2 2076.0 1720.0 C2079.3 1723.8 2081.3 1734.2 2080.0 1740.0 C2078.7 1745.8 2073.0 1752.3 2068.0 1755.0 C2063.0 1757.7 2053.0 1755.8 2050.0 1756.0" />
<path class="m" d="M2056 1746L2071 1744L2073 1735M2071 1744L2068 1752" />
<path class="n" d="M2040 1718A25 25 0 0 0 2034 1745" />
<path class="t" d="M1236.6 1638.8 C1231.9 1635.4 1214.5 1624.5 1208.6 1618.3 C1202.7 1612.1 1201.5 1607.1 1201.2 1601.5 C1200.9 1595.9 1202.5 1589.4 1206.8 1584.7 C1211.1 1580.0 1217.7 1570.7 1227.3 1573.5 C1236.9 1576.3 1245.9 1590.6 1264.5 1601.5 C1283.1 1612.4 1314.2 1629.8 1339.0 1638.8 C1363.8 1647.8 1388.8 1651.8 1413.6 1655.5 C1438.4 1659.2 1463.3 1661.7 1488.1 1661.1 C1512.9 1660.5 1540.8 1656.8 1562.6 1651.8 C1584.3 1646.8 1606.8 1633.5 1618.6 1631.3 C1630.4 1629.1 1629.8 1632.9 1633.5 1638.8 C1637.2 1644.7 1641.8 1659.9 1640.9 1666.7 C1640.0 1673.5 1641.0 1674.4 1627.9 1679.7 C1614.9 1685.0 1589.0 1693.7 1562.6 1698.4 C1536.2 1703.1 1500.5 1708.0 1469.5 1707.7 C1438.5 1707.4 1404.2 1701.8 1376.3 1696.5 C1348.3 1691.2 1325.1 1685.6 1301.8 1676.0 C1278.5 1666.4 1247.5 1645.0 1236.6 1638.8" />
<path class="d" d="M1430.0 1681.7h1.8v1.8h-1.8zM1360.8 1674.5h1.5v1.5h-1.5zM1232.3 1627.4h2.7v2.7h-2.7zM1547.0 1693.3h2.5v2.5h-2.5zM1255.4 1626.1h3.0v3.0h-3.0zM1619.6 1660.4h1.9v1.9h-1.9zM1450.3 1689.0h2.1v2.1h-2.1zM1629.6 1666.4h1.8v1.8h-1.8zM1411.2 1674.1h1.4v1.4h-1.4zM1464.6 1685.4h2.3v2.3h-2.3zM1318.8 1653.0h2.5v2.5h-2.5zM1365.1 1681.8h2.8v2.8h-2.8zM1453.4 1696.1h2.5v2.5h-2.5zM1412.2 1696.4h2.9v2.9h-2.9zM1228.8 1612.9h3.2v3.2h-3.2zM1510.3 1696.2h3.1v3.1h-3.1zM1615.4 1664.2h3.2v3.2h-3.2zM1273.4 1648.2h1.5v1.5h-1.5zM1594.5 1679.9h1.6v1.6h-1.6zM1439.2 1693.8h2.4v2.4h-2.4zM1348.7 1668.9h2.8v2.8h-2.8zM1388.7 1674.3h1.9v1.9h-1.9zM1277.1 1650.3h2.7v2.7h-2.7zM1238.3 1628.2h3.3v3.3h-3.3zM1416.6 1690.4h3.0v3.0h-3.0zM1264.8 1632.2h3.1v3.1h-3.1zM1595.9 1668.0h1.7v1.7h-1.7zM1441.8 1691.5h1.5v1.5h-1.5zM1362.1 1671.4h2.5v2.5h-2.5zM1304.8 1669.7h2.1v2.1h-2.1zM1614.2 1667.2h2.2v2.2h-2.2zM1433.9 1690.3h3.2v3.2h-3.2zM1560.4 1683.9h2.7v2.7h-2.7zM1575.0 1681.3h2.0v2.0h-2.0zM1236.2 1634.1h1.6v1.6h-1.6zM1375.0 1688.9h2.5v2.5h-2.5zM1327.9 1654.6h2.4v2.4h-2.4zM1425.3 1683.1h2.3v2.3h-2.3zM1389.2 1678.6h2.3v2.3h-2.3zM1359.3 1675.0h1.5v1.5h-1.5zM1249.0 1637.9h3.3v3.3h-3.3zM1368.7 1666.4h1.6v1.6h-1.6zM1538.9 1689.9h2.1v2.1h-2.1zM1220.4 1613.5h3.4v3.4h-3.4zM1454.2 1691.1h2.0v2.0h-2.0zM1279.1 1658.8h1.4v1.4h-1.4zM1219.3 1617.1h2.7v2.7h-2.7zM1470.4 1703.1h2.7v2.7h-2.7zM1353.7 1685.5h2.8v2.8h-2.8zM1566.9 1683.4h2.3v2.3h-2.3zM1378.0 1682.7h2.7v2.7h-2.7zM1439.3 1690.9h1.5v1.5h-1.5zM1445.0 1698.7h2.4v2.4h-2.4zM1385.0 1671.8h1.6v1.6h-1.6zM1504.2 1696.6h2.9v2.9h-2.9zM1439.2 1691.5h3.1v3.1h-3.1zM1305.0 1650.2h2.8v2.8h-2.8zM1363.7 1668.9h2.4v2.4h-2.4zM1332.4 1656.8h3.3v3.3h-3.3zM1227.8 1628.2h2.4v2.4h-2.4zM1309.1 1662.1h1.6v1.6h-1.6zM1341.5 1677.4h2.6v2.6h-2.6zM1509.1 1684.3h1.5v1.5h-1.5zM1408.6 1690.7h2.5v2.5h-2.5zM1328.0 1664.3h2.2v2.2h-2.2zM1213.0 1612.9h2.1v2.1h-2.1zM1357.1 1676.8h2.4v2.4h-2.4zM1293.3 1663.9h2.0v2.0h-2.0zM1269.6 1631.3h2.9v2.9h-2.9zM1412.7 1677.9h1.5v1.5h-1.5zM1584.1 1676.5h1.9v1.9h-1.9zM1606.5 1665.6h1.6v1.6h-1.6zM1596.7 1664.8h1.5v1.5h-1.5zM1558.0 1692.0h2.0v2.0h-2.0zM1512.3 1689.5h3.2v3.2h-3.2zM1593.3 1683.5h3.4v3.4h-3.4zM1617.4 1659.6h2.9v2.9h-2.9zM1568.9 1688.0h2.8v2.8h-2.8zM1549.1 1690.3h1.9v1.9h-1.9zM1617.0 1670.5h1.8v1.8h-1.8zM1563.9 1681.9h2.6v2.6h-2.6zM1264.3 1633.8h2.9v2.9h-2.9zM1312.3 1649.4h1.4v1.4h-1.4zM1487.1 1691.8h2.8v2.8h-2.8zM1324.2 1663.2h2.2v2.2h-2.2zM1460.0 1692.6h2.0v2.0h-2.0zM1238.3 1626.0h2.4v2.4h-2.4zM1549.9 1691.4h1.5v1.5h-1.5zM1551.9 1687.7h2.7v2.7h-2.7zM1599.0 1678.4h1.5v1.5h-1.5zM1431.3 1690.5h2.8v2.8h-2.8zM1298.9 1652.9h2.6v2.6h-2.6zM1260.8 1626.9h2.0v2.0h-2.0zM1507.5 1696.2h1.7v1.7h-1.7zM1477.4 1699.7h2.2v2.2h-2.2zM1582.9 1683.6h2.0v2.0h-2.0zM1407.1 1675.7h3.2v3.2h-3.2zM1599.5 1679.7h1.8v1.8h-1.8zM1285.3 1649.5h1.7v1.7h-1.7zM1315.0 1671.3h2.1v2.1h-2.1zM1530.5 1691.3h2.0v2.0h-2.0zM1322.2 1672.4h1.7v1.7h-1.7zM1620.8 1667.9h2.5v2.5h-2.5zM1231.9 1629.5h2.2v2.2h-2.2zM1244.5 1619.6h1.7v1.7h-1.7zM1372.0 1683.8h1.6v1.6h-1.6zM1227.9 1610.3h2.8v2.8h-2.8zM1425.5 1679.4h1.8v1.8h-1.8zM1603.4 1667.6h2.4v2.4h-2.4zM1342.6 1677.7h3.2v3.2h-3.2zM1404.0 1687.9h1.7v1.7h-1.7zM1429.2 1677.4h3.0v3.0h-3.0zM1618.3 1663.4h2.7v2.7h-2.7zM1588.3 1669.0h2.9v2.9h-2.9zM1416.9 1679.9h2.7v2.7h-2.7zM1493.9 1690.2h1.6v1.6h-1.6zM1426.6 1682.7h1.6v1.6h-1.6zM1388.0 1673.5h3.3v3.3h-3.3zM1447.4 1699.1h2.3v2.3h-2.3zM1258.6 1631.2h2.5v2.5h-2.5zM1444.3 1699.9h3.0v3.0h-3.0zM1530.3 1684.5h2.9v2.9h-2.9zM1372.0 1674.0h1.8v1.8h-1.8zM1359.6 1676.8h1.4v1.4h-1.4zM1471.2 1687.4h3.3v3.3h-3.3zM1400.3 1689.0h1.5v1.5h-1.5zM1286.1 1659.1h3.3v3.3h-3.3zM1618.3 1670.0h2.3v2.3h-2.3zM1313.6 1658.7h2.0v2.0h-2.0zM1533.9 1695.9h2.6v2.6h-2.6zM1265.7 1647.7h1.5v1.5h-1.5zM1302.4 1666.2h3.3v3.3h-3.3zM1554.5 1682.6h2.4v2.4h-2.4zM1422.2 1687.7h1.6v1.6h-1.6zM1291.8 1649.6h3.4v3.4h-3.4zM1496.4 1692.2h3.3v3.3h-3.3zM1261.8 1625.3h2.9v2.9h-2.9zM1603.6 1678.4h2.3v2.3h-2.3zM1291.3 1665.3h2.6v2.6h-2.6zM1430.3 1680.5h2.5v2.5h-2.5zM1343.7 1669.5h3.3v3.3h-3.3zM1393.4 1687.2h2.7v2.7h-2.7zM1617.7 1660.3h2.6v2.6h-2.6zM1491.2 1698.7h2.6v2.6h-2.6zM1528.0 1685.0h2.3v2.3h-2.3zM1361.9 1681.0h3.2v3.2h-3.2zM1336.7 1674.0h1.8v1.8h-1.8zM1346.4 1679.1h3.1v3.1h-3.1zM1378.5 1689.2h1.4v1.4h-1.4zM1306.7 1654.7h1.4v1.4h-1.4zM1438.8 1687.4h2.7v2.7h-2.7zM1609.9 1670.9h3.2v3.2h-3.2zM1432.6 1681.4h1.5v1.5h-1.5zM1372.2 1670.9h3.2v3.2h-3.2zM1415.7 1687.2h1.9v1.9h-1.9zM1625.9 1652.3h2.9v2.9h-2.9zM1353.3 1667.6h1.7v1.7h-1.7zM1430.1 1678.0h2.6v2.6h-2.6zM1415.6 1678.9h3.3v3.3h-3.3zM1359.4 1688.4h1.9v1.9h-1.9zM1233.1 1628.1h3.3v3.3h-3.3zM1282.7 1646.3h2.0v2.0h-2.0zM1496.6 1692.1h1.5v1.5h-1.5zM1221.1 1611.7h2.0v2.0h-2.0zM1266.9 1644.9h2.1v2.1h-2.1zM1469.5 1691.9h3.2v3.2h-3.2zM1593.3 1672.5h2.9v2.9h-2.9zM1409.4 1688.9h2.2v2.2h-2.2zM1389.4 1683.4h3.3v3.3h-3.3zM1448.9 1683.6h2.4v2.4h-2.4zM1352.3 1680.7h2.2v2.2h-2.2zM1441.8 1696.6h1.5v1.5h-1.5zM1476.4 1701.5h3.2v3.2h-3.2zM1337.8 1670.5h2.1v2.1h-2.1zM1484.6 1686.4h3.2v3.2h-3.2zM1375.9 1675.6h3.1v3.1h-3.1zM1385.1 1688.2h1.5v1.5h-1.5zM1337.3 1679.5h3.1v3.1h-3.1zM1288.5 1656.3h2.1v2.1h-2.1zM1321.6 1677.0h2.1v2.1h-2.1zM1443.2 1694.3h1.4v1.4h-1.4zM1621.6 1664.1h2.2v2.2h-2.2zM1453.9 1686.4h1.7v1.7h-1.7zM1255.3 1627.9h2.5v2.5h-2.5zM1247.3 1636.6h3.2v3.2h-3.2zM1596.6 1678.3h2.7v2.7h-2.7zM1379.0 1687.0h2.0v2.0h-2.0zM1382.5 1670.6h3.3v3.3h-3.3zM1360.8 1682.1h1.8v1.8h-1.8zM1581.5 1682.3h2.2v2.2h-2.2zM1248.8 1641.0h1.8v1.8h-1.8zM1316.6 1662.2h1.5v1.5h-1.5zM1608.2 1674.9h2.4v2.4h-2.4zM1445.6 1680.4h1.6v1.6h-1.6zM1409.7 1682.3h2.2v2.2h-2.2zM1222.0 1614.2h1.7v1.7h-1.7zM1274.1 1641.7h1.7v1.7h-1.7zM1522.4 1691.1h2.0v2.0h-2.0zM1516.2 1694.3h3.2v3.2h-3.2zM1427.5 1688.3h2.2v2.2h-2.2zM1254.8 1638.0h2.0v2.0h-2.0zM1628.0 1658.0h3.3v3.3h-3.3zM1287.6 1644.4h2.6v2.6h-2.6zM1612.1 1669.3h1.6v1.6h-1.6zM1424.0 1697.8h2.0v2.0h-2.0zM1589.1 1675.2h2.5v2.5h-2.5zM1228.6 1622.9h2.7v2.7h-2.7zM1559.7 1687.4h2.9v2.9h-2.9zM1368.3 1673.2h2.1v2.1h-2.1zM1280.8 1647.4h1.7v1.7h-1.7zM1294.5 1665.2h2.5v2.5h-2.5zM1412.6 1686.9h2.6v2.6h-2.6zM1260.3 1634.9h2.1v2.1h-2.1zM1406.1 1695.2h1.7v1.7h-1.7zM1358.3 1664.0h3.4v3.4h-3.4zM1503.1 1683.9h1.9v1.9h-1.9zM1616.3 1660.6h3.3v3.3h-3.3zM1585.9 1681.3h2.1v2.1h-2.1zM1370.5 1669.9h3.1v3.1h-3.1zM1432.5 1687.9h1.6v1.6h-1.6z"/>
<ellipse class="t" cx="1672.5" cy="1629" rx="13" ry="20" transform="rotate(-25 1672.5 1629)"/>
<ellipse class="t" cx="1648.5" cy="1607" rx="5" ry="12" transform="rotate(-40 1648.5 1607)"/>
<ellipse class="t" cx="1663.5" cy="1598" rx="5.5" ry="12" transform="rotate(-30 1663.5 1598)"/>
<ellipse class="m" cx="968.8" cy="1358.4" rx="18.5" ry="14.4" transform="rotate(-35 968.8 1358.4)"/>
<ellipse class="m" cx="982.2" cy="1330.6" rx="10.3" ry="7.2" transform="rotate(-30 982.2 1330.6)"/>
<ellipse class="m" cx="998.7" cy="1346" rx="9.3" ry="6.2" transform="rotate(-30 998.7 1346)"/>
<ellipse class="m" cx="1177" cy="1556.2" rx="16.5" ry="19.6" transform="rotate(30 1177 1556.2)"/>
<ellipse class="m" cx="1189.3" cy="1529.5" rx="9" ry="11.3"/>
<ellipse class="m" cx="1205.8" cy="1540.8" rx="8.2" ry="11.3"/>
<path class="t" d="M999.8 1472.8 C999.3 1469.0 996.4 1457.6 996.7 1450.1 C997.0 1442.5 999.2 1434.0 1001.8 1427.5 C1004.4 1421.0 1008.0 1416.2 1012.1 1411.0 C1016.2 1405.8 1020.7 1400.6 1026.5 1396.5 C1032.3 1392.4 1040.2 1388.8 1047.1 1386.2 C1054.0 1383.6 1061.6 1381.8 1067.8 1381.1 C1074.0 1380.4 1079.0 1380.5 1084.2 1382.1 C1089.4 1383.6 1094.2 1386.6 1098.7 1390.4 C1103.2 1394.2 1107.9 1399.0 1111.0 1404.8 C1114.1 1410.6 1116.0 1419.5 1117.2 1425.4 C1118.4 1431.3 1117.9 1437.6 1118.0 1440.0" />
<path class="t" d="M999.8 1472.8 C1001.2 1475.2 1004.2 1482.7 1008.0 1487.2 C1011.8 1491.7 1017.2 1496.7 1022.4 1499.6 C1027.5 1502.5 1033.4 1503.8 1038.9 1504.7 C1044.4 1505.6 1051.2 1504.2 1055.4 1504.7 C1059.6 1505.2 1062.6 1507.5 1064.0 1508.0" />
<path class="n" d="M1008.0 1474.8 C1007.6 1471.4 1005.2 1461.1 1005.9 1454.2 C1006.6 1447.3 1008.7 1440.1 1012.1 1433.6 C1015.5 1427.1 1020.7 1420.6 1026.5 1415.1 C1032.3 1409.6 1040.2 1404.0 1047.1 1400.7 C1054.0 1397.4 1060.9 1396.5 1067.8 1395.5 C1074.7 1394.5 1082.2 1393.3 1088.4 1394.5 C1094.6 1395.7 1102.1 1401.3 1104.8 1402.7" />
<path class="m" d="M1117.2 1433.6 C1113.4 1430.8 1100.0 1420.3 1094.5 1417.1 C1089.0 1413.8 1089.4 1414.4 1084.2 1414.1 C1079.0 1413.8 1070.1 1413.2 1063.6 1415.1 C1057.1 1417.0 1050.2 1420.6 1045.1 1425.4 C1039.9 1430.2 1035.1 1437.4 1032.7 1443.9 C1030.3 1450.4 1030.0 1458.3 1030.7 1464.5 C1031.4 1470.7 1033.7 1476.2 1036.8 1481.0 C1039.9 1485.8 1044.7 1489.3 1049.2 1493.4 C1053.7 1497.5 1061.2 1503.7 1063.6 1505.8" />
<path class="f" d="M1063.6 1491.3 C1063.6 1488.5 1062.2 1480.3 1063.6 1474.8 C1065.0 1469.3 1067.8 1463.0 1071.9 1458.4 C1076.0 1453.8 1082.9 1449.6 1088.4 1447.0 C1093.9 1444.4 1099.3 1443.4 1104.8 1442.9 C1110.3 1442.4 1116.5 1442.0 1121.3 1443.9 C1126.1 1445.8 1130.8 1450.4 1133.7 1454.2 C1136.6 1458.0 1138.1 1461.4 1138.8 1466.6 C1139.5 1471.8 1139.3 1479.6 1137.8 1485.1 C1136.3 1490.6 1135.1 1493.8 1129.6 1499.6 C1124.1 1505.4 1112.4 1516.2 1104.8 1520.2 C1097.2 1524.2 1090.0 1524.0 1084.2 1523.3 C1078.4 1522.6 1073.2 1519.4 1069.8 1516.1 C1066.4 1512.8 1064.6 1507.8 1063.6 1503.7 C1062.6 1499.6 1063.6 1493.4 1063.6 1491.3 C1063.6 1489.2 1063.6 1494.0 1063.6 1491.3Z"/>
<path class="t" d="M1003.0 1388.4 L1019.2 1406.3" />
<path class="t" d="M991.7 1399.8 L1007.9 1416.0" />
<path class="f" d="M985.2 1388.4 C986.0 1384.7 988.4 1379.8 991.7 1377.1 C994.9 1374.4 1000.6 1372.0 1004.6 1372.3 C1008.7 1372.5 1013.5 1375.8 1016.0 1378.7 C1018.4 1381.7 1020.0 1385.8 1019.2 1390.1 C1018.4 1394.4 1014.6 1401.7 1011.1 1404.6 C1007.6 1407.6 1002.2 1408.7 998.2 1407.9 C994.1 1407.1 989.0 1403.0 986.8 1399.8 C984.7 1396.5 984.4 1392.2 985.2 1388.4Z"/>
<path class="m" d="M993.3 1380.4 C995.7 1381.4 1004.6 1383.6 1007.9 1386.8 C1011.1 1390.1 1011.9 1397.6 1012.7 1399.8" />
<path class="f" d="M1104.8 1472.8L1125.4 1491.3L1115.1 1505.8L1094.5 1489.3C1089 1484 1093 1476 1098 1474C1100 1473 1103 1472 1104.8 1472.8Z"/>
<path class="f" d="M1115.1 1505.8 C1115.8 1503.0 1116.5 1501.3 1119.3 1499.6 C1122.0 1497.9 1127.5 1495.5 1131.6 1495.5 C1135.7 1495.5 1141.1 1496.9 1144.0 1499.6 C1146.9 1502.3 1149.1 1507.4 1149.1 1511.9 C1149.1 1516.4 1146.9 1522.8 1144.0 1526.4 C1141.1 1530.0 1135.4 1533.3 1131.6 1533.6 C1127.8 1533.9 1124.0 1531.3 1121.3 1528.4 C1118.5 1525.5 1116.1 1519.9 1115.1 1516.1 C1114.1 1512.3 1114.4 1508.5 1115.1 1505.8Z"/>
<ellipse class="n" cx="1135" cy="1516" rx="8" ry="10" transform="rotate(30 1135 1516)"/>
<circle cx="1136" cy="1517" r="2.5" fill="#000"/>
<path class="t" d="M906.1 1328.9 C888.2 1310.4 829.9 1254.7 798.8 1217.6 C767.7 1180.5 741.8 1146.1 719.3 1106.4 C696.8 1066.7 676.8 1016.9 663.7 979.2 C650.7 941.5 646.0 907.4 641.0 880.0 C636.0 852.6 635.2 840.4 633.8 815.0 C632.3 789.6 631.7 752.5 632.5 727.5 C633.3 702.5 636.2 682.9 638.8 665.0 C641.2 647.1 645.3 629.2 647.5 620.0 C649.7 610.8 648.7 612.3 652.0 610.0 C655.3 607.7 662.2 606.0 667.5 606.0 C672.8 606.0 679.8 606.8 684.0 610.0 C688.2 613.2 692.2 615.8 692.5 625.0 C692.8 634.2 688.1 647.9 686.0 665.0 C683.9 682.1 681.0 706.7 680.0 727.5 C679.0 748.3 678.8 770.4 680.0 790.0 C681.2 809.6 681.6 814.8 687.5 845.0 C693.4 875.2 701.5 931.0 715.4 971.3 C729.3 1011.5 749.8 1052.1 771.0 1086.5 C792.2 1120.9 814.0 1143.5 842.5 1177.9 C871.0 1212.3 925.3 1273.8 941.9 1293.0" />
<ellipse class="t" cx="927" cy="1314" rx="19" ry="24" transform="rotate(46 927 1314)"/>
<ellipse class="m" cx="926" cy="1316" rx="11" ry="15" transform="rotate(46 926 1316)"/>
<path class="d" d="M827.9 1225.6h1.6v1.6h-1.6zM650.9 824.0h3.0v3.0h-3.0zM662.1 866.0h2.4v2.4h-2.4zM734.5 1099.4h3.0v3.0h-3.0zM731.0 1100.9h1.9v1.9h-1.9zM655.7 782.7h2.7v2.7h-2.7zM665.4 872.0h2.9v2.9h-2.9zM676.4 912.5h2.9v2.9h-2.9zM711.2 1042.6h2.0v2.0h-2.0zM655.5 698.3h1.4v1.4h-1.4zM681.0 972.7h2.6v2.6h-2.6zM743.4 1105.5h2.7v2.7h-2.7zM839.9 1239.2h3.2v3.2h-3.2zM758.9 1132.9h2.4v2.4h-2.4zM890.1 1301.5h2.6v2.6h-2.6zM664.4 896.6h2.8v2.8h-2.8zM750.8 1112.3h1.9v1.9h-1.9zM661.2 716.8h2.6v2.6h-2.6zM713.3 1059.7h1.7v1.7h-1.7zM784.3 1155.1h1.8v1.8h-1.8zM779.3 1154.7h1.8v1.8h-1.8zM696.4 1017.3h2.0v2.0h-2.0zM882.9 1290.6h2.1v2.1h-2.1zM888.0 1291.1h2.4v2.4h-2.4zM715.8 1051.0h3.0v3.0h-3.0zM662.4 840.1h2.4v2.4h-2.4zM888.3 1289.3h3.2v3.2h-3.2zM738.6 1098.9h1.7v1.7h-1.7zM674.7 952.9h1.7v1.7h-1.7zM677.3 948.9h1.9v1.9h-1.9zM690.1 985.7h2.7v2.7h-2.7zM743.1 1104.1h2.4v2.4h-2.4zM652.7 837.2h3.1v3.1h-3.1zM664.3 881.7h2.5v2.5h-2.5zM661.8 686.4h1.5v1.5h-1.5zM668.8 899.1h2.6v2.6h-2.6zM663.9 886.1h1.8v1.8h-1.8zM896.2 1305.0h1.4v1.4h-1.4zM717.3 1050.2h1.5v1.5h-1.5zM683.5 956.0h1.7v1.7h-1.7zM658.1 644.4h2.7v2.7h-2.7zM657.7 779.3h3.2v3.2h-3.2zM723.6 1080.6h3.0v3.0h-3.0zM730.9 1084.5h1.5v1.5h-1.5zM856.8 1257.2h2.4v2.4h-2.4zM651.5 760.2h1.5v1.5h-1.5zM845.1 1250.9h3.1v3.1h-3.1zM754.4 1121.1h2.9v2.9h-2.9zM660.2 700.0h2.6v2.6h-2.6zM666.5 644.0h2.9v2.9h-2.9zM652.6 800.9h2.1v2.1h-2.1zM866.4 1262.2h1.9v1.9h-1.9zM656.9 861.2h2.3v2.3h-2.3zM660.8 887.6h2.2v2.2h-2.2zM660.9 689.7h1.4v1.4h-1.4zM791.8 1169.4h2.9v2.9h-2.9zM816.9 1216.7h3.1v3.1h-3.1zM745.4 1117.8h3.0v3.0h-3.0zM664.5 634.9h1.5v1.5h-1.5zM887.7 1290.7h3.1v3.1h-3.1zM672.6 929.5h2.9v2.9h-2.9zM682.3 956.4h1.4v1.4h-1.4zM651.6 731.5h2.3v2.3h-2.3zM661.6 849.1h2.0v2.0h-2.0zM784.7 1171.6h1.7v1.7h-1.7zM710.2 1030.2h2.7v2.7h-2.7zM652.9 741.6h2.6v2.6h-2.6zM727.6 1094.4h1.7v1.7h-1.7zM701.4 1008.6h2.3v2.3h-2.3zM655.5 788.4h1.5v1.5h-1.5zM695.3 989.8h1.5v1.5h-1.5zM724.1 1084.3h1.7v1.7h-1.7zM657.3 722.4h1.6v1.6h-1.6zM680.1 952.7h3.0v3.0h-3.0zM651.0 777.1h1.7v1.7h-1.7zM655.3 849.1h2.3v2.3h-2.3zM783.6 1155.8h2.7v2.7h-2.7zM696.9 1004.8h2.3v2.3h-2.3zM661.6 742.5h2.9v2.9h-2.9zM811.2 1208.5h2.6v2.6h-2.6zM885.8 1287.3h2.2v2.2h-2.2zM698.8 994.8h2.2v2.2h-2.2zM851.9 1256.9h2.5v2.5h-2.5zM652.5 703.9h1.8v1.8h-1.8zM756.8 1118.5h2.8v2.8h-2.8zM662.8 639.4h1.4v1.4h-1.4zM651.3 730.5h1.5v1.5h-1.5zM701.0 1026.9h2.1v2.1h-2.1zM765.8 1135.4h1.5v1.5h-1.5zM657.5 738.1h1.9v1.9h-1.9zM652.2 759.8h1.5v1.5h-1.5zM664.6 660.2h1.7v1.7h-1.7zM743.7 1120.4h1.4v1.4h-1.4zM650.0 781.3h1.9v1.9h-1.9zM712.3 1024.7h2.8v2.8h-2.8zM660.0 738.4h2.2v2.2h-2.2zM663.0 909.6h1.9v1.9h-1.9zM662.6 829.7h2.2v2.2h-2.2zM652.6 755.9h2.4v2.4h-2.4zM868.3 1273.2h2.7v2.7h-2.7zM680.9 950.2h2.0v2.0h-2.0zM659.1 882.4h2.9v2.9h-2.9zM659.3 727.3h2.9v2.9h-2.9zM839.1 1236.3h1.9v1.9h-1.9zM656.3 779.5h2.2v2.2h-2.2zM686.4 984.6h2.4v2.4h-2.4zM658.4 781.5h2.6v2.6h-2.6zM658.3 768.3h1.7v1.7h-1.7zM803.8 1182.2h2.3v2.3h-2.3zM656.2 876.1h3.2v3.2h-3.2zM832.1 1220.9h2.4v2.4h-2.4zM670.9 900.4h2.8v2.8h-2.8zM669.5 926.6h1.5v1.5h-1.5zM702.0 1005.5h2.6v2.6h-2.6zM680.5 958.5h2.8v2.8h-2.8zM715.0 1039.1h2.2v2.2h-2.2zM679.4 963.8h3.1v3.1h-3.1zM756.4 1115.6h2.4v2.4h-2.4zM772.7 1151.5h1.6v1.6h-1.6zM655.7 765.1h3.0v3.0h-3.0zM668.9 921.3h2.5v2.5h-2.5zM663.7 914.3h2.4v2.4h-2.4zM677.7 917.6h1.6v1.6h-1.6zM860.8 1268.2h2.0v2.0h-2.0zM656.5 815.1h2.1v2.1h-2.1zM785.6 1174.9h1.8v1.8h-1.8zM758.2 1130.4h2.7v2.7h-2.7zM663.0 839.8h1.7v1.7h-1.7zM729.7 1077.3h2.2v2.2h-2.2zM661.4 729.7h2.3v2.3h-2.3zM707.5 1026.9h2.8v2.8h-2.8zM718.6 1063.0h2.3v2.3h-2.3zM713.8 1037.8h2.1v2.1h-2.1zM769.3 1153.3h2.0v2.0h-2.0zM660.3 736.4h2.0v2.0h-2.0zM656.6 724.9h1.7v1.7h-1.7zM837.2 1241.5h2.2v2.2h-2.2zM659.8 824.4h1.6v1.6h-1.6zM807.0 1187.5h1.8v1.8h-1.8zM657.2 837.9h2.2v2.2h-2.2zM659.5 695.6h2.9v2.9h-2.9zM691.1 990.3h1.5v1.5h-1.5zM790.4 1164.3h2.9v2.9h-2.9zM675.5 949.5h3.2v3.2h-3.2zM654.7 751.3h1.8v1.8h-1.8zM745.8 1108.3h1.8v1.8h-1.8zM660.4 743.3h2.7v2.7h-2.7zM674.6 940.5h1.4v1.4h-1.4zM858.4 1255.5h3.0v3.0h-3.0zM769.7 1154.9h1.9v1.9h-1.9zM808.3 1206.7h2.7v2.7h-2.7zM759.0 1124.7h2.5v2.5h-2.5zM729.0 1070.6h2.9v2.9h-2.9zM659.1 822.6h2.1v2.1h-2.1zM804.4 1182.2h2.1v2.1h-2.1zM674.8 910.2h1.9v1.9h-1.9zM660.9 673.6h1.8v1.8h-1.8zM654.7 790.7h1.8v1.8h-1.8zM649.4 765.1h2.8v2.8h-2.8zM657.7 824.0h3.1v3.1h-3.1zM652.6 833.6h2.2v2.2h-2.2zM663.1 826.2h2.7v2.7h-2.7zM655.3 881.6h1.7v1.7h-1.7zM884.5 1292.0h2.2v2.2h-2.2zM656.4 831.3h2.6v2.6h-2.6zM735.9 1089.4h3.1v3.1h-3.1zM662.9 875.4h2.0v2.0h-2.0zM796.9 1175.0h2.3v2.3h-2.3zM662.4 819.8h1.5v1.5h-1.5zM657.0 763.1h1.8v1.8h-1.8zM655.7 705.7h2.7v2.7h-2.7zM740.5 1112.7h2.0v2.0h-2.0zM661.1 854.5h1.9v1.9h-1.9zM661.0 657.7h2.4v2.4h-2.4zM652.0 760.6h2.5v2.5h-2.5zM651.2 782.1h1.9v1.9h-1.9zM709.5 1046.7h2.2v2.2h-2.2zM659.6 824.6h1.4v1.4h-1.4zM778.2 1157.7h2.0v2.0h-2.0zM657.4 767.1h2.3v2.3h-2.3zM742.7 1095.2h1.6v1.6h-1.6zM883.0 1285.8h1.9v1.9h-1.9zM656.4 654.8h3.1v3.1h-3.1zM757.5 1128.8h2.9v2.9h-2.9zM686.4 979.7h2.6v2.6h-2.6zM874.6 1279.7h2.7v2.7h-2.7zM729.6 1067.3h3.0v3.0h-3.0zM736.0 1097.4h1.5v1.5h-1.5zM741.3 1112.0h1.9v1.9h-1.9zM695.1 995.2h1.6v1.6h-1.6zM892.1 1303.6h3.1v3.1h-3.1zM655.4 647.4h3.0v3.0h-3.0zM713.5 1047.2h1.7v1.7h-1.7zM801.6 1190.1h1.6v1.6h-1.6zM784.4 1155.1h2.6v2.6h-2.6zM684.1 969.0h1.6v1.6h-1.6zM796.1 1176.7h2.0v2.0h-2.0zM725.5 1089.3h2.4v2.4h-2.4zM689.6 968.6h2.8v2.8h-2.8zM655.4 835.1h2.7v2.7h-2.7zM689.4 963.0h2.3v2.3h-2.3zM693.8 1009.8h2.1v2.1h-2.1zM681.9 962.8h1.6v1.6h-1.6zM712.0 1035.3h1.4v1.4h-1.4zM694.6 981.7h1.8v1.8h-1.8zM819.1 1220.5h1.7v1.7h-1.7zM842.2 1237.6h2.6v2.6h-2.6zM667.8 903.0h2.9v2.9h-2.9zM667.8 893.1h2.3v2.3h-2.3zM678.5 968.6h3.0v3.0h-3.0zM660.2 859.9h2.2v2.2h-2.2zM660.8 847.8h1.8v1.8h-1.8zM653.2 730.6h2.0v2.0h-2.0zM676.0 957.2h2.8v2.8h-2.8zM852.7 1261.0h2.7v2.7h-2.7zM665.7 653.7h2.6v2.6h-2.6zM804.0 1187.8h1.5v1.5h-1.5zM674.4 952.9h3.0v3.0h-3.0zM854.0 1251.9h1.8v1.8h-1.8zM877.1 1287.7h3.1v3.1h-3.1zM821.0 1222.3h2.4v2.4h-2.4zM661.7 892.9h2.1v2.1h-2.1zM727.2 1066.0h2.9v2.9h-2.9zM673.0 901.3h2.9v2.9h-2.9zM655.6 863.7h2.2v2.2h-2.2zM729.8 1083.4h2.5v2.5h-2.5zM657.1 817.7h2.4v2.4h-2.4zM653.9 736.6h1.6v1.6h-1.6zM768.8 1154.9h2.9v2.9h-2.9zM657.0 692.7h1.6v1.6h-1.6zM657.6 868.6h2.4v2.4h-2.4zM749.2 1114.2h2.5v2.5h-2.5zM725.6 1057.2h1.8v1.8h-1.8zM650.0 739.3h2.9v2.9h-2.9zM704.8 1028.4h1.8v1.8h-1.8zM699.9 1013.6h2.9v2.9h-2.9zM657.3 696.4h3.0v3.0h-3.0zM693.3 1009.0h1.5v1.5h-1.5zM813.4 1194.7h2.8v2.8h-2.8zM826.9 1229.6h3.0v3.0h-3.0zM762.0 1144.9h3.0v3.0h-3.0zM685.5 985.6h3.2v3.2h-3.2zM666.7 882.0h1.4v1.4h-1.4zM682.1 957.6h1.9v1.9h-1.9zM650.9 707.1h1.5v1.5h-1.5zM695.3 1011.5h2.1v2.1h-2.1zM661.4 903.3h1.8v1.8h-1.8zM665.7 922.6h3.1v3.1h-3.1zM716.4 1059.5h3.0v3.0h-3.0zM651.9 799.7h2.4v2.4h-2.4zM872.9 1284.9h1.9v1.9h-1.9zM772.0 1142.1h2.4v2.4h-2.4zM677.9 952.8h1.5v1.5h-1.5zM656.4 796.6h1.6v1.6h-1.6zM698.9 1014.3h2.7v2.7h-2.7zM664.7 882.8h1.5v1.5h-1.5zM657.1 784.9h2.9v2.9h-2.9zM848.2 1251.0h1.4v1.4h-1.4zM874.1 1272.7h2.3v2.3h-2.3zM666.2 877.2h3.1v3.1h-3.1zM658.6 645.5h2.9v2.9h-2.9zM860.9 1255.2h2.7v2.7h-2.7zM660.1 846.8h1.7v1.7h-1.7zM680.5 945.4h2.5v2.5h-2.5zM661.3 884.8h1.5v1.5h-1.5zM759.4 1128.2h2.2v2.2h-2.2zM653.9 766.0h2.1v2.1h-2.1zM657.0 720.5h2.0v2.0h-2.0zM801.6 1193.4h2.7v2.7h-2.7zM652.7 846.1h2.7v2.7h-2.7zM788.9 1169.4h2.9v2.9h-2.9zM674.0 936.5h1.5v1.5h-1.5zM661.5 856.7h2.7v2.7h-2.7zM660.2 764.1h1.8v1.8h-1.8zM750.5 1127.3h2.0v2.0h-2.0zM719.3 1064.1h1.5v1.5h-1.5zM663.4 832.3h2.6v2.6h-2.6zM653.4 719.9h1.8v1.8h-1.8zM735.1 1101.0h2.4v2.4h-2.4zM658.2 684.8h1.8v1.8h-1.8zM682.3 976.6h2.6v2.6h-2.6zM681.3 931.2h1.7v1.7h-1.7zM796.0 1175.4h1.9v1.9h-1.9zM743.0 1107.7h2.5v2.5h-2.5zM655.9 744.8h1.5v1.5h-1.5zM654.6 837.2h2.3v2.3h-2.3zM656.0 868.4h2.2v2.2h-2.2zM654.4 695.6h2.1v2.1h-2.1zM648.7 778.1h2.2v2.2h-2.2zM649.7 799.8h2.1v2.1h-2.1zM815.5 1202.8h1.5v1.5h-1.5zM657.6 735.1h2.0v2.0h-2.0zM886.3 1299.8h2.2v2.2h-2.2zM699.3 995.0h3.0v3.0h-3.0zM664.8 870.9h1.7v1.7h-1.7zM668.3 885.2h3.1v3.1h-3.1zM839.4 1227.2h1.9v1.9h-1.9zM729.4 1075.7h2.9v2.9h-2.9zM769.6 1136.7h2.0v2.0h-2.0zM654.6 775.5h2.8v2.8h-2.8z"/>
<path class="t" d="M450.8 1092.2 C446.7 1077.7 433.1 1031.4 426.3 1005.1 C419.5 978.8 413.6 957.0 410.0 934.3 C406.4 911.6 405.3 888.8 404.5 868.9 C403.7 849.0 404.1 827.0 405.0 815.0 C405.9 803.0 406.7 801.7 410.0 797.0 C413.3 792.3 419.1 789.3 425.0 787.0 C430.9 784.7 438.6 783.3 445.4 783.1 C452.2 782.9 460.2 784.0 466.0 786.0 C471.8 788.0 476.9 791.3 480.0 795.0 C483.1 798.7 483.9 803.0 484.5 808.0 C485.1 813.0 483.7 815.8 483.5 825.0 C483.3 834.2 481.7 844.8 483.5 863.5 C485.3 882.2 489.4 913.4 494.4 937.0 C499.4 960.6 507.5 983.3 513.4 1005.1 C519.3 1026.9 527.1 1057.3 529.8 1067.7" />
<ellipse class="t" cx="492" cy="1090" rx="40" ry="24" transform="rotate(-25 492 1090)"/>
<ellipse class="m" cx="491" cy="1091" rx="25" ry="15" transform="rotate(-25 491 1091)"/>
<path class="n" d="M418 842L425 940M433 978L449 1053" style="stroke-width:2"/>
<path class="t" d="M614.2 1285.6L319.7 1554.8M672.7 1379.2L399.7 1632.8" />
<path class="t" d="M614.2 1285.6 C616.8 1285.3 620.7 1279.8 629.8 1283.7 C638.9 1287.6 659.0 1298.9 668.8 1309.0 C678.5 1319.1 685.4 1334.9 688.3 1344.1 C691.2 1353.3 688.6 1358.2 686.0 1364.0 C683.4 1369.8 674.9 1376.7 672.7 1379.2" />
<ellipse class="t" cx="657" cy="1362" rx="9" ry="19" transform="rotate(30 657 1362)"/>
<path class="n" d="M666 1349A7 16 30 0 1 650 1378" />
<path class="m" d="M323.6 1558.7C365 1572 393 1598 397.7 1634.7" />
<path class="m" d="M313.8 1570.4C350 1582 380 1610 384 1644.5" />
<path class="t" d="M319.7 1554.8L310 1566.5L310 1578L298.2 1580.1" />
<path class="t" d="M298.2 1580.1 C295.8 1580.8 292.4 1578.5 284.0 1584.0 C275.6 1589.5 267.6 1597.4 247.5 1613.3 C227.4 1629.2 178.0 1666.6 163.7 1679.6 C149.4 1692.5 157.5 1680.0 161.7 1691.0 C165.9 1702.0 174.7 1730.9 189.0 1745.9 C203.3 1760.9 234.7 1776.2 247.5 1781.0 C260.3 1785.8 260.8 1778.2 266.0 1775.0 C271.2 1771.8 269.1 1771.5 278.7 1761.5 C288.3 1751.5 309.3 1732.2 323.6 1714.7 C337.9 1697.2 357.0 1668.6 364.5 1656.2 C372.0 1643.8 365.1 1642.5 368.4 1640.6 C371.6 1638.6 378.8 1645.8 384.0 1644.5 C389.2 1643.2 397.1 1634.8 399.7 1632.8" />
<path class="m" d="M310.0 1578.0 C313.9 1580.0 325.5 1584.0 333.3 1589.9 C341.1 1595.8 351.2 1606.5 356.7 1613.3 C362.2 1620.1 364.6 1626.2 366.5 1630.8 C368.4 1635.3 368.1 1639.0 368.4 1640.6" />
<path class="t" d="M173.4 1687.4 L196.8 1667.9 L263.0 1699.1 L274.8 1757.6 L247.5 1777.1 L189.0 1742.0Z" />
<path class="n" d="M177.3 1690.0 L198.8 1674.0 L259.2 1703.0 L269.0 1755.7 L247.5 1771.3 L192.9 1738.1Z" />
<path class="n" d="M200 1740L245 1705M236 1747L258 1720" />
<path class="n" d="M247.0 1616.0 C254.2 1618.0 278.2 1620.7 290.0 1628.0 C301.8 1635.3 312.5 1648.0 318.0 1660.0 C323.5 1672.0 322.2 1693.3 323.0 1700.0" />
<path class="n" d="M298 1682L286 1694" />
<ellipse class="m" cx="687" cy="575" rx="23" ry="20"/>
<ellipse class="m" cx="653" cy="558.5" rx="13" ry="8.5"/>
<ellipse class="m" cx="650" cy="584" rx="12.5" ry="8.5"/>
</svg>
</body></html>
